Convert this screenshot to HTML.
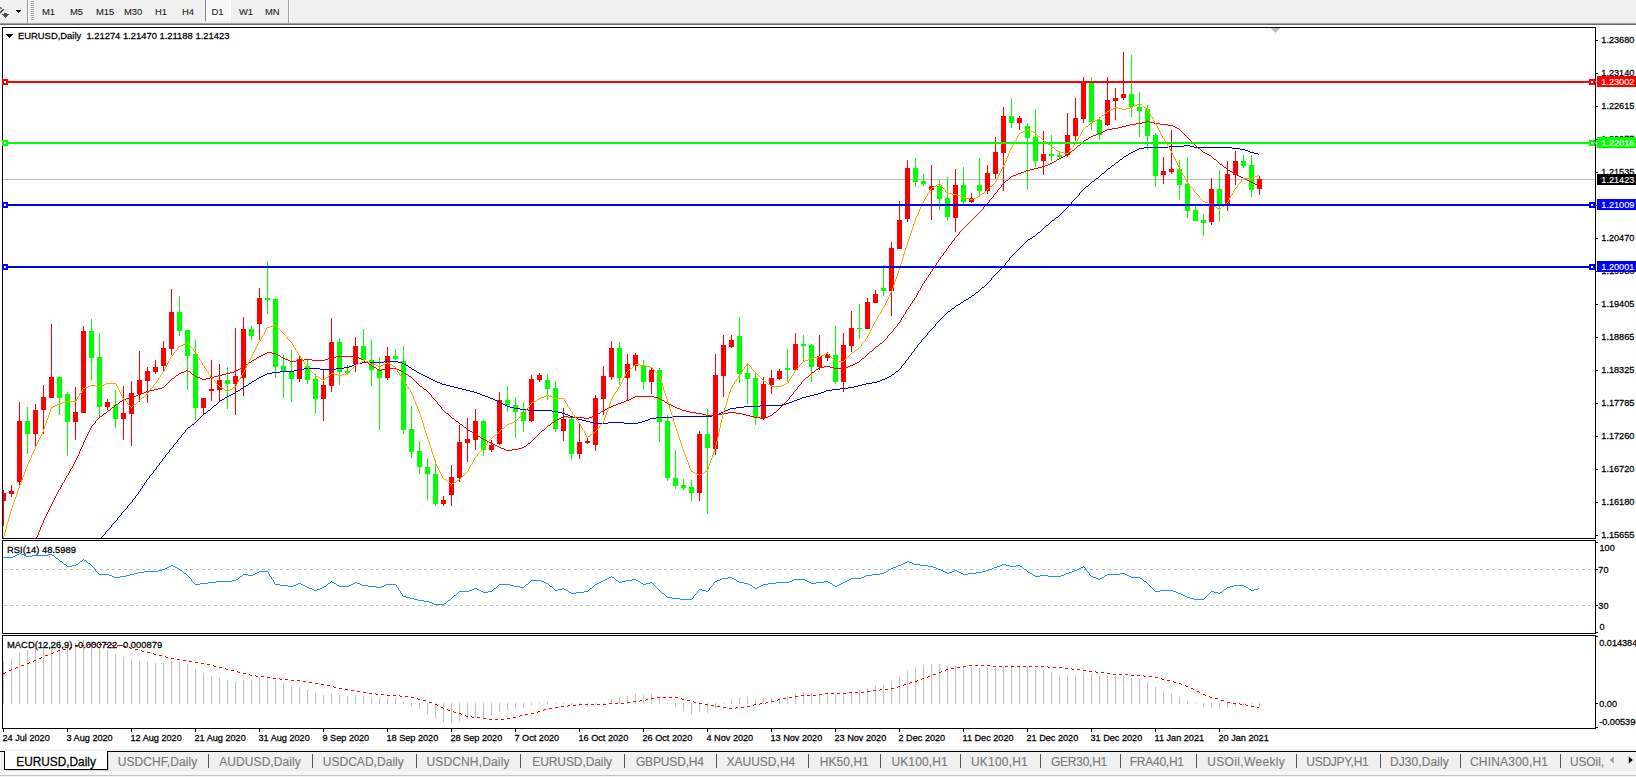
<!DOCTYPE html>
<html><head><meta charset="utf-8"><title>EURUSD,Daily</title>
<style>
html,body{margin:0;padding:0;background:#fff;overflow:hidden}
svg{display:block}
text{font-family:"Liberation Sans",sans-serif;font-size:9.7px;fill:#000;white-space:pre;stroke:#000;stroke-width:.25px}
.t{font-size:12px;fill:#7a7a7a;stroke:#7a7a7a;stroke-width:.15px}
.ta{font-size:12px;fill:#000}
.w{fill:#fff;stroke:#fff;stroke-width:.12px}
.c{shape-rendering:crispEdges}
.p{fill:none;stroke-width:1;stroke-linejoin:round;shape-rendering:crispEdges}
</style></head><body>
<svg width="1636" height="777" viewBox="0 0 1636 777">
<g class="c">
<rect x="0" y="0" width="1636" height="23" fill="#f0f0f0"/>
<rect x="0" y="22" width="1636" height="1" fill="#ececec"/>
<rect x="0" y="23" width="1636" height="1" fill="#a0a0a0"/>
<rect x="0" y="24" width="1636" height="1" fill="#696969"/>
<rect x="27" y="0" width="1" height="23" fill="#a0a0a0"/>
<rect x="28" y="0" width="1" height="22" fill="#ffffff"/>
<rect x="288" y="0" width="1" height="23" fill="#a0a0a0"/>
<rect x="289" y="0" width="1" height="22" fill="#ffffff"/>
<rect x="31" y="1" width="3" height="1" fill="#a6a6a6"/>
<rect x="31" y="3" width="3" height="1" fill="#a6a6a6"/>
<rect x="31" y="5" width="3" height="1" fill="#a6a6a6"/>
<rect x="31" y="7" width="3" height="1" fill="#a6a6a6"/>
<rect x="31" y="9" width="3" height="1" fill="#a6a6a6"/>
<rect x="31" y="11" width="3" height="1" fill="#a6a6a6"/>
<rect x="31" y="13" width="3" height="1" fill="#a6a6a6"/>
<rect x="31" y="15" width="3" height="1" fill="#a6a6a6"/>
<rect x="31" y="17" width="3" height="1" fill="#a6a6a6"/>
<rect x="31" y="19" width="3" height="1" fill="#a6a6a6"/>
<rect x="205" y="0" width="1" height="21" fill="#808080"/>
<rect x="206" y="0" width="24" height="20" fill="#f8f8f8"/>
<rect x="206" y="20" width="25" height="1" fill="#ffffff"/>
<rect x="230" y="0" width="1" height="21" fill="#ffffff"/>
<rect x="16" y="10" width="5" height="1" fill="#000"/>
<rect x="17" y="11" width="3" height="1" fill="#000"/>
<rect x="18" y="12" width="1" height="1" fill="#000"/>
</g>
<path d="M-0.5 13.3 L3.7 9.3 M-0.5 7.6 L1.6 8.4" stroke="#404040" stroke-width="1.5" fill="none"/>
<path class="c" d="M4 13h3v1h-3zM2 14h7v1h-7zM3 15h5v1h-5zM4 16h3v1h-3zM5 17h1v1h-1z" fill="#505050"/>
<text transform="translate(42 14.6) scale(1 1.032)" style="font-size:9.4px;fill:#1c1c1c;stroke:#1c1c1c;stroke-width:.1px">M1</text>
<text transform="translate(70 14.6) scale(1 1.032)" style="font-size:9.4px;fill:#1c1c1c;stroke:#1c1c1c;stroke-width:.1px">M5</text>
<text transform="translate(96 14.6) scale(1 1.032)" style="font-size:9.4px;fill:#1c1c1c;stroke:#1c1c1c;stroke-width:.1px">M15</text>
<text transform="translate(124 14.6) scale(1 1.032)" style="font-size:9.4px;fill:#1c1c1c;stroke:#1c1c1c;stroke-width:.1px">M30</text>
<text transform="translate(155 14.6) scale(1 1.032)" style="font-size:9.4px;fill:#1c1c1c;stroke:#1c1c1c;stroke-width:.1px">H1</text>
<text transform="translate(182 14.6) scale(1 1.032)" style="font-size:9.4px;fill:#1c1c1c;stroke:#1c1c1c;stroke-width:.1px">H4</text>
<text transform="translate(211.5 14.6) scale(1 1.032)" style="font-size:9.4px;fill:#1c1c1c;stroke:#1c1c1c;stroke-width:.1px">D1</text>
<text transform="translate(239 14.6) scale(1 1.032)" style="font-size:9.4px;fill:#1c1c1c;stroke:#1c1c1c;stroke-width:.1px">W1</text>
<text transform="translate(265 14.6) scale(1 1.032)" style="font-size:9.4px;fill:#1c1c1c;stroke:#1c1c1c;stroke-width:.1px">MN</text>
<g class="c">
<rect x="2" y="27" width="1594" height="1" fill="#000"/>
<rect x="2" y="538" width="1594" height="1" fill="#000"/>
<rect x="2" y="27" width="1" height="512" fill="#000"/>
<rect x="1595" y="27" width="1" height="512" fill="#000"/>
<rect x="2" y="540" width="1594" height="1" fill="#000"/>
<rect x="2" y="633" width="1594" height="1" fill="#000"/>
<rect x="2" y="540" width="1" height="94" fill="#000"/>
<rect x="1595" y="540" width="1" height="94" fill="#000"/>
<rect x="2" y="635" width="1594" height="1" fill="#000"/>
<rect x="2" y="728" width="1594" height="1" fill="#000"/>
<rect x="2" y="635" width="1" height="94" fill="#000"/>
<rect x="1595" y="635" width="1" height="94" fill="#000"/>
</g>
<g class="c">
<rect x="3" y="179" width="1592" height="1" fill="#c0c0c0"/>
</g>
<g class="c">
<rect x="3" y="490" width="1" height="36" fill="#ff0000"/>
<rect x="3" y="493" width="3" height="8" fill="#ff0000"/>
<rect x="11" y="485" width="1" height="12" fill="#ff0000"/>
<rect x="9" y="491" width="5" height="3" fill="#ff0000"/>
<rect x="19" y="402" width="1" height="86" fill="#ff0000"/>
<rect x="17" y="421" width="5" height="61" fill="#ff0000"/>
<rect x="27" y="407" width="1" height="47" fill="#00ff00"/>
<rect x="25" y="421" width="5" height="13" fill="#00ff00"/>
<rect x="35" y="404" width="1" height="42" fill="#ff0000"/>
<rect x="33" y="410" width="5" height="24" fill="#ff0000"/>
<rect x="43" y="385" width="1" height="49" fill="#ff0000"/>
<rect x="41" y="397" width="5" height="13" fill="#ff0000"/>
<rect x="51" y="324" width="1" height="74" fill="#ff0000"/>
<rect x="49" y="377" width="5" height="21" fill="#ff0000"/>
<rect x="59" y="377" width="1" height="38" fill="#00ff00"/>
<rect x="57" y="377" width="5" height="21" fill="#00ff00"/>
<rect x="67" y="392" width="1" height="64" fill="#00ff00"/>
<rect x="65" y="394" width="5" height="28" fill="#00ff00"/>
<rect x="75" y="387" width="1" height="53" fill="#ff0000"/>
<rect x="73" y="412" width="5" height="10" fill="#ff0000"/>
<rect x="83" y="326" width="1" height="87" fill="#ff0000"/>
<rect x="81" y="331" width="5" height="82" fill="#ff0000"/>
<rect x="91" y="319" width="1" height="61" fill="#00ff00"/>
<rect x="89" y="331" width="5" height="27" fill="#00ff00"/>
<rect x="99" y="333" width="1" height="84" fill="#00ff00"/>
<rect x="97" y="357" width="5" height="50" fill="#00ff00"/>
<rect x="107" y="399" width="1" height="11" fill="#ff0000"/>
<rect x="105" y="402" width="5" height="5" fill="#ff0000"/>
<rect x="115" y="390" width="1" height="38" fill="#00ff00"/>
<rect x="113" y="405" width="5" height="14" fill="#00ff00"/>
<rect x="123" y="386" width="1" height="54" fill="#ff0000"/>
<rect x="121" y="413" width="5" height="6" fill="#ff0000"/>
<rect x="131" y="381" width="1" height="65" fill="#ff0000"/>
<rect x="129" y="393" width="5" height="21" fill="#ff0000"/>
<rect x="139" y="351" width="1" height="51" fill="#ff0000"/>
<rect x="137" y="380" width="5" height="14" fill="#ff0000"/>
<rect x="147" y="367" width="1" height="36" fill="#ff0000"/>
<rect x="145" y="371" width="5" height="10" fill="#ff0000"/>
<rect x="155" y="360" width="1" height="14" fill="#ff0000"/>
<rect x="153" y="367" width="5" height="5" fill="#ff0000"/>
<rect x="163" y="341" width="1" height="31" fill="#ff0000"/>
<rect x="161" y="348" width="5" height="18" fill="#ff0000"/>
<rect x="171" y="289" width="1" height="66" fill="#ff0000"/>
<rect x="169" y="312" width="5" height="37" fill="#ff0000"/>
<rect x="179" y="296" width="1" height="40" fill="#00ff00"/>
<rect x="177" y="312" width="5" height="19" fill="#00ff00"/>
<rect x="187" y="330" width="1" height="60" fill="#00ff00"/>
<rect x="185" y="330" width="5" height="26" fill="#00ff00"/>
<rect x="195" y="340" width="1" height="80" fill="#00ff00"/>
<rect x="193" y="354" width="5" height="54" fill="#00ff00"/>
<rect x="203" y="398" width="1" height="17" fill="#ff0000"/>
<rect x="201" y="398" width="5" height="10" fill="#ff0000"/>
<rect x="211" y="360" width="1" height="41" fill="#ff0000"/>
<rect x="209" y="389" width="5" height="2" fill="#ff0000"/>
<rect x="219" y="364" width="1" height="37" fill="#ff0000"/>
<rect x="217" y="380" width="5" height="10" fill="#ff0000"/>
<rect x="227" y="367" width="1" height="42" fill="#00ff00"/>
<rect x="225" y="380" width="5" height="4" fill="#00ff00"/>
<rect x="235" y="328" width="1" height="87" fill="#ff0000"/>
<rect x="233" y="376" width="5" height="8" fill="#ff0000"/>
<rect x="243" y="317" width="1" height="79" fill="#ff0000"/>
<rect x="241" y="329" width="5" height="49" fill="#ff0000"/>
<rect x="251" y="326" width="1" height="14" fill="#00ff00"/>
<rect x="249" y="329" width="5" height="7" fill="#00ff00"/>
<rect x="259" y="288" width="1" height="52" fill="#ff0000"/>
<rect x="257" y="298" width="5" height="26" fill="#ff0000"/>
<rect x="267" y="261" width="1" height="53" fill="#00ff00"/>
<rect x="265" y="298" width="5" height="2" fill="#00ff00"/>
<rect x="275" y="298" width="1" height="80" fill="#00ff00"/>
<rect x="273" y="299" width="5" height="68" fill="#00ff00"/>
<rect x="283" y="355" width="1" height="43" fill="#00ff00"/>
<rect x="281" y="366" width="5" height="6" fill="#00ff00"/>
<rect x="291" y="350" width="1" height="52" fill="#00ff00"/>
<rect x="289" y="372" width="5" height="7" fill="#00ff00"/>
<rect x="299" y="356" width="1" height="26" fill="#ff0000"/>
<rect x="297" y="359" width="5" height="20" fill="#ff0000"/>
<rect x="307" y="360" width="1" height="24" fill="#00ff00"/>
<rect x="305" y="366" width="5" height="14" fill="#00ff00"/>
<rect x="315" y="374" width="1" height="39" fill="#00ff00"/>
<rect x="313" y="379" width="5" height="20" fill="#00ff00"/>
<rect x="323" y="370" width="1" height="51" fill="#ff0000"/>
<rect x="321" y="385" width="5" height="14" fill="#ff0000"/>
<rect x="331" y="318" width="1" height="74" fill="#ff0000"/>
<rect x="329" y="342" width="5" height="44" fill="#ff0000"/>
<rect x="339" y="338" width="1" height="47" fill="#00ff00"/>
<rect x="337" y="342" width="5" height="30" fill="#00ff00"/>
<rect x="347" y="365" width="1" height="10" fill="#00ff00"/>
<rect x="345" y="371" width="5" height="2" fill="#00ff00"/>
<rect x="355" y="337" width="1" height="35" fill="#ff0000"/>
<rect x="353" y="346" width="5" height="18" fill="#ff0000"/>
<rect x="363" y="329" width="1" height="31" fill="#00ff00"/>
<rect x="361" y="346" width="5" height="14" fill="#00ff00"/>
<rect x="371" y="340" width="1" height="46" fill="#00ff00"/>
<rect x="369" y="360" width="5" height="10" fill="#00ff00"/>
<rect x="379" y="357" width="1" height="73" fill="#00ff00"/>
<rect x="377" y="369" width="5" height="9" fill="#00ff00"/>
<rect x="387" y="347" width="1" height="33" fill="#ff0000"/>
<rect x="385" y="356" width="5" height="22" fill="#ff0000"/>
<rect x="395" y="349" width="1" height="11" fill="#00ff00"/>
<rect x="393" y="356" width="5" height="3" fill="#00ff00"/>
<rect x="403" y="346" width="1" height="88" fill="#00ff00"/>
<rect x="401" y="361" width="5" height="69" fill="#00ff00"/>
<rect x="411" y="406" width="1" height="52" fill="#00ff00"/>
<rect x="409" y="429" width="5" height="23" fill="#00ff00"/>
<rect x="419" y="441" width="1" height="33" fill="#00ff00"/>
<rect x="417" y="451" width="5" height="16" fill="#00ff00"/>
<rect x="427" y="458" width="1" height="42" fill="#00ff00"/>
<rect x="425" y="467" width="5" height="7" fill="#00ff00"/>
<rect x="435" y="460" width="1" height="46" fill="#00ff00"/>
<rect x="433" y="474" width="5" height="30" fill="#00ff00"/>
<rect x="443" y="496" width="1" height="10" fill="#ff0000"/>
<rect x="441" y="500" width="5" height="4" fill="#ff0000"/>
<rect x="451" y="465" width="1" height="41" fill="#ff0000"/>
<rect x="449" y="477" width="5" height="18" fill="#ff0000"/>
<rect x="459" y="425" width="1" height="57" fill="#ff0000"/>
<rect x="457" y="442" width="5" height="36" fill="#ff0000"/>
<rect x="467" y="418" width="1" height="44" fill="#ff0000"/>
<rect x="465" y="439" width="5" height="4" fill="#ff0000"/>
<rect x="475" y="409" width="1" height="41" fill="#ff0000"/>
<rect x="473" y="421" width="5" height="19" fill="#ff0000"/>
<rect x="483" y="420" width="1" height="36" fill="#00ff00"/>
<rect x="481" y="421" width="5" height="29" fill="#00ff00"/>
<rect x="491" y="440" width="1" height="12" fill="#ff0000"/>
<rect x="489" y="445" width="5" height="5" fill="#ff0000"/>
<rect x="499" y="392" width="1" height="53" fill="#ff0000"/>
<rect x="497" y="400" width="5" height="44" fill="#ff0000"/>
<rect x="507" y="386" width="1" height="26" fill="#00ff00"/>
<rect x="505" y="400" width="5" height="5" fill="#00ff00"/>
<rect x="515" y="397" width="1" height="41" fill="#00ff00"/>
<rect x="513" y="405" width="5" height="7" fill="#00ff00"/>
<rect x="523" y="402" width="1" height="30" fill="#00ff00"/>
<rect x="521" y="412" width="5" height="9" fill="#00ff00"/>
<rect x="531" y="375" width="1" height="47" fill="#ff0000"/>
<rect x="529" y="379" width="5" height="42" fill="#ff0000"/>
<rect x="539" y="373" width="1" height="9" fill="#ff0000"/>
<rect x="537" y="375" width="5" height="5" fill="#ff0000"/>
<rect x="547" y="374" width="1" height="26" fill="#00ff00"/>
<rect x="545" y="380" width="5" height="9" fill="#00ff00"/>
<rect x="555" y="381" width="1" height="51" fill="#00ff00"/>
<rect x="553" y="388" width="5" height="41" fill="#00ff00"/>
<rect x="563" y="408" width="1" height="33" fill="#ff0000"/>
<rect x="561" y="419" width="5" height="12" fill="#ff0000"/>
<rect x="571" y="418" width="1" height="42" fill="#00ff00"/>
<rect x="569" y="419" width="5" height="35" fill="#00ff00"/>
<rect x="579" y="424" width="1" height="35" fill="#ff0000"/>
<rect x="577" y="442" width="5" height="12" fill="#ff0000"/>
<rect x="587" y="437" width="1" height="7" fill="#ff0000"/>
<rect x="585" y="441" width="5" height="2" fill="#ff0000"/>
<rect x="595" y="395" width="1" height="56" fill="#ff0000"/>
<rect x="593" y="398" width="5" height="47" fill="#ff0000"/>
<rect x="603" y="366" width="1" height="49" fill="#ff0000"/>
<rect x="601" y="376" width="5" height="23" fill="#ff0000"/>
<rect x="611" y="341" width="1" height="39" fill="#ff0000"/>
<rect x="609" y="348" width="5" height="29" fill="#ff0000"/>
<rect x="619" y="342" width="1" height="43" fill="#00ff00"/>
<rect x="617" y="348" width="5" height="30" fill="#00ff00"/>
<rect x="627" y="354" width="1" height="46" fill="#ff0000"/>
<rect x="625" y="364" width="5" height="14" fill="#ff0000"/>
<rect x="635" y="353" width="1" height="18" fill="#ff0000"/>
<rect x="633" y="355" width="5" height="11" fill="#ff0000"/>
<rect x="643" y="360" width="1" height="30" fill="#00ff00"/>
<rect x="641" y="365" width="5" height="17" fill="#00ff00"/>
<rect x="651" y="367" width="1" height="27" fill="#ff0000"/>
<rect x="649" y="370" width="5" height="12" fill="#ff0000"/>
<rect x="659" y="368" width="1" height="74" fill="#00ff00"/>
<rect x="657" y="370" width="5" height="52" fill="#00ff00"/>
<rect x="667" y="415" width="1" height="66" fill="#00ff00"/>
<rect x="665" y="421" width="5" height="57" fill="#00ff00"/>
<rect x="675" y="450" width="1" height="39" fill="#00ff00"/>
<rect x="673" y="478" width="5" height="8" fill="#00ff00"/>
<rect x="683" y="479" width="1" height="11" fill="#00ff00"/>
<rect x="681" y="485" width="5" height="3" fill="#00ff00"/>
<rect x="691" y="480" width="1" height="21" fill="#00ff00"/>
<rect x="689" y="487" width="5" height="6" fill="#00ff00"/>
<rect x="699" y="431" width="1" height="70" fill="#ff0000"/>
<rect x="697" y="434" width="5" height="59" fill="#ff0000"/>
<rect x="707" y="409" width="1" height="105" fill="#00ff00"/>
<rect x="705" y="434" width="5" height="14" fill="#00ff00"/>
<rect x="715" y="354" width="1" height="101" fill="#ff0000"/>
<rect x="713" y="375" width="5" height="74" fill="#ff0000"/>
<rect x="723" y="335" width="1" height="62" fill="#ff0000"/>
<rect x="721" y="345" width="5" height="31" fill="#ff0000"/>
<rect x="731" y="335" width="1" height="13" fill="#ff0000"/>
<rect x="729" y="340" width="5" height="7" fill="#ff0000"/>
<rect x="739" y="317" width="1" height="66" fill="#00ff00"/>
<rect x="737" y="336" width="5" height="38" fill="#00ff00"/>
<rect x="747" y="363" width="1" height="41" fill="#00ff00"/>
<rect x="745" y="373" width="5" height="6" fill="#00ff00"/>
<rect x="755" y="372" width="1" height="53" fill="#00ff00"/>
<rect x="753" y="378" width="5" height="40" fill="#00ff00"/>
<rect x="763" y="377" width="1" height="43" fill="#ff0000"/>
<rect x="761" y="384" width="5" height="34" fill="#ff0000"/>
<rect x="771" y="370" width="1" height="24" fill="#ff0000"/>
<rect x="769" y="378" width="5" height="7" fill="#ff0000"/>
<rect x="779" y="369" width="1" height="11" fill="#ff0000"/>
<rect x="777" y="371" width="5" height="8" fill="#ff0000"/>
<rect x="787" y="349" width="1" height="33" fill="#00ff00"/>
<rect x="785" y="368" width="5" height="2" fill="#00ff00"/>
<rect x="795" y="333" width="1" height="37" fill="#ff0000"/>
<rect x="793" y="344" width="5" height="26" fill="#ff0000"/>
<rect x="803" y="335" width="1" height="26" fill="#00ff00"/>
<rect x="801" y="344" width="5" height="2" fill="#00ff00"/>
<rect x="811" y="344" width="1" height="38" fill="#00ff00"/>
<rect x="809" y="345" width="5" height="22" fill="#00ff00"/>
<rect x="819" y="335" width="1" height="35" fill="#ff0000"/>
<rect x="817" y="356" width="5" height="11" fill="#ff0000"/>
<rect x="827" y="352" width="1" height="9" fill="#ff0000"/>
<rect x="825" y="354" width="5" height="4" fill="#ff0000"/>
<rect x="835" y="326" width="1" height="58" fill="#00ff00"/>
<rect x="833" y="355" width="5" height="27" fill="#00ff00"/>
<rect x="843" y="333" width="1" height="59" fill="#ff0000"/>
<rect x="841" y="345" width="5" height="37" fill="#ff0000"/>
<rect x="851" y="311" width="1" height="41" fill="#ff0000"/>
<rect x="849" y="328" width="5" height="18" fill="#ff0000"/>
<rect x="859" y="304" width="1" height="35" fill="#00ff00"/>
<rect x="857" y="328" width="5" height="1" fill="#00ff00"/>
<rect x="867" y="298" width="1" height="31" fill="#ff0000"/>
<rect x="865" y="302" width="5" height="27" fill="#ff0000"/>
<rect x="875" y="290" width="1" height="13" fill="#ff0000"/>
<rect x="873" y="294" width="5" height="9" fill="#ff0000"/>
<rect x="883" y="265" width="1" height="31" fill="#00ff00"/>
<rect x="881" y="288" width="5" height="3" fill="#00ff00"/>
<rect x="891" y="242" width="1" height="74" fill="#ff0000"/>
<rect x="889" y="248" width="5" height="43" fill="#ff0000"/>
<rect x="899" y="201" width="1" height="48" fill="#ff0000"/>
<rect x="897" y="220" width="5" height="29" fill="#ff0000"/>
<rect x="907" y="160" width="1" height="62" fill="#ff0000"/>
<rect x="905" y="168" width="5" height="51" fill="#ff0000"/>
<rect x="915" y="158" width="1" height="29" fill="#00ff00"/>
<rect x="913" y="168" width="5" height="14" fill="#00ff00"/>
<rect x="923" y="174" width="1" height="12" fill="#00ff00"/>
<rect x="921" y="181" width="5" height="3" fill="#00ff00"/>
<rect x="931" y="165" width="1" height="55" fill="#ff0000"/>
<rect x="929" y="186" width="5" height="4" fill="#ff0000"/>
<rect x="939" y="180" width="1" height="30" fill="#00ff00"/>
<rect x="937" y="186" width="5" height="13" fill="#00ff00"/>
<rect x="947" y="177" width="1" height="44" fill="#00ff00"/>
<rect x="945" y="198" width="5" height="19" fill="#00ff00"/>
<rect x="955" y="169" width="1" height="63" fill="#ff0000"/>
<rect x="953" y="185" width="5" height="33" fill="#ff0000"/>
<rect x="963" y="167" width="1" height="37" fill="#00ff00"/>
<rect x="961" y="185" width="5" height="17" fill="#00ff00"/>
<rect x="971" y="193" width="1" height="10" fill="#ff0000"/>
<rect x="969" y="198" width="5" height="4" fill="#ff0000"/>
<rect x="979" y="158" width="1" height="39" fill="#00ff00"/>
<rect x="977" y="185" width="5" height="6" fill="#00ff00"/>
<rect x="987" y="165" width="1" height="29" fill="#ff0000"/>
<rect x="985" y="173" width="5" height="18" fill="#ff0000"/>
<rect x="995" y="137" width="1" height="42" fill="#ff0000"/>
<rect x="993" y="152" width="5" height="22" fill="#ff0000"/>
<rect x="1003" y="107" width="1" height="84" fill="#ff0000"/>
<rect x="1001" y="116" width="5" height="37" fill="#ff0000"/>
<rect x="1011" y="99" width="1" height="29" fill="#00ff00"/>
<rect x="1009" y="116" width="5" height="7" fill="#00ff00"/>
<rect x="1019" y="116" width="1" height="14" fill="#ff0000"/>
<rect x="1017" y="118" width="5" height="5" fill="#ff0000"/>
<rect x="1027" y="123" width="1" height="66" fill="#00ff00"/>
<rect x="1025" y="126" width="5" height="12" fill="#00ff00"/>
<rect x="1035" y="109" width="1" height="58" fill="#00ff00"/>
<rect x="1033" y="137" width="5" height="24" fill="#00ff00"/>
<rect x="1043" y="131" width="1" height="44" fill="#ff0000"/>
<rect x="1041" y="154" width="5" height="7" fill="#ff0000"/>
<rect x="1051" y="135" width="1" height="26" fill="#00ff00"/>
<rect x="1049" y="154" width="5" height="2" fill="#00ff00"/>
<rect x="1059" y="151" width="1" height="7" fill="#00ff00"/>
<rect x="1057" y="155" width="5" height="2" fill="#00ff00"/>
<rect x="1067" y="113" width="1" height="44" fill="#ff0000"/>
<rect x="1065" y="135" width="5" height="20" fill="#ff0000"/>
<rect x="1075" y="98" width="1" height="43" fill="#ff0000"/>
<rect x="1073" y="118" width="5" height="18" fill="#ff0000"/>
<rect x="1083" y="77" width="1" height="46" fill="#ff0000"/>
<rect x="1081" y="81" width="5" height="38" fill="#ff0000"/>
<rect x="1091" y="77" width="1" height="53" fill="#00ff00"/>
<rect x="1089" y="83" width="5" height="39" fill="#00ff00"/>
<rect x="1099" y="117" width="1" height="23" fill="#00ff00"/>
<rect x="1097" y="120" width="5" height="15" fill="#00ff00"/>
<rect x="1107" y="77" width="1" height="49" fill="#ff0000"/>
<rect x="1105" y="100" width="5" height="25" fill="#ff0000"/>
<rect x="1115" y="88" width="1" height="32" fill="#ff0000"/>
<rect x="1113" y="98" width="5" height="3" fill="#ff0000"/>
<rect x="1123" y="52" width="1" height="48" fill="#ff0000"/>
<rect x="1121" y="94" width="5" height="4" fill="#ff0000"/>
<rect x="1131" y="55" width="1" height="62" fill="#00ff00"/>
<rect x="1129" y="94" width="5" height="13" fill="#00ff00"/>
<rect x="1139" y="92" width="1" height="45" fill="#00ff00"/>
<rect x="1137" y="107" width="5" height="4" fill="#00ff00"/>
<rect x="1147" y="105" width="1" height="45" fill="#00ff00"/>
<rect x="1145" y="109" width="5" height="27" fill="#00ff00"/>
<rect x="1155" y="133" width="1" height="54" fill="#00ff00"/>
<rect x="1153" y="135" width="5" height="41" fill="#00ff00"/>
<rect x="1163" y="157" width="1" height="27" fill="#ff0000"/>
<rect x="1161" y="171" width="5" height="4" fill="#ff0000"/>
<rect x="1171" y="130" width="1" height="44" fill="#ff0000"/>
<rect x="1169" y="169" width="5" height="3" fill="#ff0000"/>
<rect x="1179" y="160" width="1" height="40" fill="#00ff00"/>
<rect x="1177" y="169" width="5" height="16" fill="#00ff00"/>
<rect x="1187" y="157" width="1" height="61" fill="#00ff00"/>
<rect x="1185" y="184" width="5" height="27" fill="#00ff00"/>
<rect x="1195" y="206" width="1" height="15" fill="#00ff00"/>
<rect x="1193" y="210" width="5" height="11" fill="#00ff00"/>
<rect x="1203" y="214" width="1" height="22" fill="#00ff00"/>
<rect x="1201" y="220" width="5" height="3" fill="#00ff00"/>
<rect x="1211" y="178" width="1" height="47" fill="#ff0000"/>
<rect x="1209" y="189" width="5" height="33" fill="#ff0000"/>
<rect x="1219" y="170" width="1" height="51" fill="#00ff00"/>
<rect x="1217" y="189" width="5" height="15" fill="#00ff00"/>
<rect x="1227" y="161" width="1" height="50" fill="#ff0000"/>
<rect x="1225" y="174" width="5" height="30" fill="#ff0000"/>
<rect x="1235" y="151" width="1" height="34" fill="#ff0000"/>
<rect x="1233" y="161" width="5" height="14" fill="#ff0000"/>
<rect x="1243" y="155" width="1" height="13" fill="#00ff00"/>
<rect x="1241" y="161" width="5" height="5" fill="#00ff00"/>
<rect x="1251" y="155" width="1" height="42" fill="#00ff00"/>
<rect x="1249" y="165" width="5" height="25" fill="#00ff00"/>
<rect x="1259" y="176" width="1" height="19" fill="#ff0000"/>
<rect x="1257" y="179" width="5" height="10" fill="#ff0000"/>
</g>
<clipPath id="mc"><rect x="3" y="28" width="1592" height="510"/></clipPath>
<g clip-path="url(#mc)">
<path class="c" fill="#0000c8" d="M1184 145h6v1h-6zM1168 146h16v1h-16zM1190 146h4v1h-4zM1144 147h24v1h-24zM1194 147h38v1h-38zM1139 148h5v1h-5zM1232 148h8v1h-8zM1137 149h2v1h-2zM1240 149h5v1h-5zM1135 150h2v1h-2zM1245 150h3v1h-3zM1133 151h2v1h-2zM1248 151h2v1h-2zM1131 152h2v1h-2zM1250 152h4v1h-4zM1129 153h2v1h-2zM1254 153h4v1h-4zM1128 154h1v1h-1zM1258 154h1v1h-1zM1126 155h2v1h-2zM1124 156h2v1h-2zM1123 157h1v1h-1zM1122 158h1v1h-1zM1120 159h2v1h-2zM1119 160h1v1h-1zM1118 161h1v1h-1zM1116 162h2v1h-2zM1115 163h1v1h-1zM1114 164h1v1h-1zM1112 165h2v1h-2zM1111 166h1v1h-1zM1110 167h1v1h-1zM1108 168h2v1h-2zM1107 169h1v1h-1zM1106 170h1v1h-1zM1105 171h1v1h-1zM1104 172h1v1h-1zM1102 173h2v1h-2zM1101 174h1v1h-1zM1100 175h1v1h-1zM1099 176h1v1h-1zM1098 177h1v1h-1zM1096 178h2v1h-2zM1095 179h1v1h-1zM1094 180h1v1h-1zM1092 181h2v1h-2zM1091 182h1v1h-1zM1090 183h1v1h-1zM1089 184h1v1h-1zM1088 185h1v1h-1zM1086 186h2v1h-2zM1085 187h1v1h-1zM1084 188h1v1h-1zM1083 189h1v1h-1zM1082 190h1v1h-1zM1081 191h1v1h-1zM1080 192h1v1h-1zM1079 193h1v2h-1zM1078 195h1v1h-1zM1077 196h1v1h-1zM1076 197h1v1h-1zM1075 198h1v1h-1zM1074 199h1v1h-1zM1073 200h1v1h-1zM1072 201h1v1h-1zM1071 202h1v2h-1zM1070 204h1v1h-1zM1069 205h1v1h-1zM1068 206h1v1h-1zM1067 207h1v1h-1zM1066 208h1v1h-1zM1065 209h1v1h-1zM1064 210h1v1h-1zM1063 211h1v1h-1zM1062 212h1v1h-1zM1061 213h1v1h-1zM1060 214h1v1h-1zM1059 215h1v1h-1zM1058 216h1v1h-1zM1056 217h2v1h-2zM1055 218h1v1h-1zM1054 219h1v1h-1zM1052 220h2v1h-2zM1051 221h1v1h-1zM1050 222h1v1h-1zM1049 223h1v1h-1zM1048 224h1v1h-1zM1046 225h2v1h-2zM1045 226h1v1h-1zM1044 227h1v1h-1zM1043 228h1v1h-1zM1042 229h1v1h-1zM1041 230h1v1h-1zM1040 231h1v1h-1zM1038 232h2v1h-2zM1037 233h1v1h-1zM1036 234h1v1h-1zM1035 235h1v1h-1zM1033 236h2v1h-2zM1032 237h1v1h-1zM1030 238h2v1h-2zM1028 239h2v1h-2zM1027 240h1v1h-1zM1026 241h1v1h-1zM1025 242h1v1h-1zM1024 243h1v1h-1zM1023 244h1v1h-1zM1022 245h1v1h-1zM1021 246h1v1h-1zM1020 247h1v1h-1zM1019 248h1v1h-1zM1018 249h1v1h-1zM1017 250h1v1h-1zM1016 251h1v1h-1zM1015 252h1v1h-1zM1014 253h1v1h-1zM1013 254h1v1h-1zM1012 255h1v1h-1zM1011 256h1v1h-1zM1010 257h1v1h-1zM1009 258h1v2h-1zM1008 260h1v1h-1zM1007 261h1v1h-1zM1006 262h1v1h-1zM1005 263h1v2h-1zM1004 265h1v1h-1zM1003 266h1v1h-1zM1002 267h1v1h-1zM1001 268h1v1h-1zM1000 269h1v1h-1zM999 270h1v1h-1zM998 271h1v1h-1zM997 272h1v1h-1zM996 273h1v1h-1zM995 274h1v1h-1zM994 275h1v1h-1zM993 276h1v1h-1zM992 277h1v1h-1zM991 278h1v2h-1zM990 280h1v1h-1zM989 281h1v1h-1zM988 282h1v1h-1zM987 283h1v1h-1zM986 284h1v1h-1zM985 285h1v1h-1zM984 286h1v1h-1zM982 287h2v1h-2zM981 288h1v1h-1zM980 289h1v1h-1zM979 290h1v1h-1zM978 291h1v1h-1zM976 292h2v1h-2zM975 293h1v1h-1zM974 294h1v1h-1zM972 295h2v1h-2zM971 296h1v1h-1zM969 297h2v1h-2zM968 298h1v1h-1zM966 299h2v1h-2zM964 300h2v1h-2zM963 301h1v1h-1zM961 302h2v1h-2zM960 303h1v1h-1zM958 304h2v1h-2zM956 305h2v1h-2zM955 306h1v1h-1zM954 307h1v1h-1zM952 308h2v1h-2zM951 309h1v1h-1zM950 310h1v1h-1zM948 311h2v1h-2zM947 312h1v1h-1zM946 313h1v1h-1zM945 314h1v1h-1zM944 315h1v1h-1zM943 316h1v1h-1zM942 317h1v1h-1zM941 318h1v1h-1zM940 319h1v1h-1zM939 320h1v1h-1zM938 321h1v1h-1zM937 322h1v1h-1zM936 323h1v1h-1zM935 324h1v2h-1zM934 326h1v1h-1zM933 327h1v1h-1zM932 328h1v1h-1zM931 329h1v1h-1zM930 330h1v1h-1zM929 331h1v1h-1zM928 332h1v1h-1zM927 333h1v2h-1zM926 335h1v1h-1zM925 336h1v1h-1zM924 337h1v1h-1zM923 338h1v1h-1zM922 339h1v1h-1zM921 340h1v2h-1zM920 342h1v1h-1zM919 343h1v1h-1zM918 344h1v1h-1zM917 345h1v2h-1zM916 347h1v1h-1zM915 348h1v1h-1zM914 349h1v2h-1zM913 351h1v1h-1zM912 352h1v1h-1zM911 353h1v2h-1zM910 355h1v1h-1zM909 356h1v1h-1zM908 357h1v2h-1zM907 359h1v1h-1zM906 360h1v1h-1zM384 361h14v1h-14zM905 361h1v2h-1zM362 362h22v1h-22zM398 362h4v1h-4zM358 363h4v1h-4zM402 363h2v1h-2zM904 363h1v1h-1zM354 364h4v1h-4zM404 364h2v1h-2zM903 364h1v1h-1zM352 365h2v1h-2zM406 365h2v1h-2zM902 365h1v1h-1zM349 366h3v1h-3zM408 366h1v1h-1zM901 366h1v2h-1zM344 367h5v1h-5zM409 367h2v1h-2zM304 368h16v1h-16zM336 368h8v1h-8zM411 368h1v1h-1zM900 368h1v1h-1zM298 369h6v1h-6zM320 369h16v1h-16zM412 369h2v1h-2zM899 369h1v1h-1zM294 370h4v1h-4zM414 370h2v1h-2zM898 370h1v1h-1zM280 371h14v1h-14zM416 371h1v1h-1zM896 371h2v1h-2zM272 372h8v1h-8zM417 372h2v1h-2zM895 372h1v1h-1zM267 373h5v1h-5zM419 373h2v1h-2zM894 373h1v1h-1zM265 374h2v1h-2zM421 374h2v1h-2zM892 374h2v1h-2zM263 375h2v1h-2zM423 375h2v1h-2zM891 375h1v1h-1zM261 376h2v1h-2zM425 376h2v1h-2zM889 376h2v1h-2zM259 377h2v1h-2zM427 377h2v1h-2zM887 377h2v1h-2zM257 378h2v1h-2zM429 378h2v1h-2zM885 378h2v1h-2zM256 379h1v1h-1zM431 379h2v1h-2zM882 379h3v1h-3zM254 380h2v1h-2zM433 380h2v1h-2zM880 380h2v1h-2zM252 381h2v1h-2zM435 381h2v1h-2zM877 381h3v1h-3zM251 382h1v1h-1zM437 382h3v1h-3zM872 382h5v1h-5zM249 383h2v1h-2zM440 383h2v1h-2zM866 383h6v1h-6zM248 384h1v1h-1zM442 384h4v1h-4zM862 384h4v1h-4zM246 385h2v1h-2zM446 385h4v1h-4zM858 385h4v1h-4zM244 386h2v1h-2zM450 386h4v1h-4zM854 386h4v1h-4zM243 387h1v1h-1zM454 387h4v1h-4zM848 387h6v1h-6zM241 388h2v1h-2zM458 388h4v1h-4zM840 388h8v1h-8zM240 389h1v1h-1zM462 389h4v1h-4zM832 389h8v1h-8zM238 390h2v1h-2zM466 390h4v1h-4zM826 390h6v1h-6zM236 391h2v1h-2zM470 391h4v1h-4zM824 391h2v1h-2zM235 392h1v1h-1zM474 392h3v1h-3zM821 392h3v1h-3zM233 393h2v1h-2zM477 393h3v1h-3zM818 393h3v1h-3zM231 394h2v1h-2zM480 394h2v1h-2zM814 394h4v1h-4zM229 395h2v1h-2zM482 395h3v1h-3zM810 395h4v1h-4zM227 396h2v1h-2zM485 396h3v1h-3zM806 396h4v1h-4zM225 397h2v1h-2zM488 397h2v1h-2zM802 397h4v1h-4zM224 398h1v1h-1zM490 398h3v1h-3zM800 398h2v1h-2zM222 399h2v1h-2zM493 399h2v1h-2zM797 399h3v1h-3zM220 400h2v1h-2zM495 400h2v1h-2zM794 400h3v1h-3zM219 401h1v1h-1zM497 401h2v1h-2zM792 401h2v1h-2zM218 402h1v1h-1zM499 402h2v1h-2zM789 402h3v1h-3zM217 403h1v1h-1zM501 403h2v1h-2zM786 403h3v1h-3zM216 404h1v1h-1zM503 404h2v1h-2zM782 404h4v1h-4zM214 405h2v1h-2zM505 405h2v1h-2zM760 405h22v1h-22zM213 406h1v1h-1zM507 406h3v1h-3zM744 406h16v1h-16zM212 407h1v1h-1zM510 407h4v1h-4zM736 407h8v1h-8zM211 408h1v1h-1zM514 408h6v1h-6zM730 408h6v1h-6zM210 409h1v1h-1zM520 409h8v1h-8zM728 409h2v1h-2zM208 410h2v1h-2zM528 410h24v1h-24zM725 410h3v1h-3zM207 411h1v1h-1zM552 411h6v1h-6zM723 411h2v1h-2zM206 412h1v1h-1zM558 412h4v1h-4zM721 412h2v1h-2zM204 413h2v1h-2zM562 413h3v1h-3zM719 413h2v1h-2zM203 414h1v1h-1zM565 414h3v1h-3zM717 414h2v1h-2zM202 415h1v1h-1zM568 415h2v1h-2zM712 415h5v1h-5zM201 416h1v1h-1zM570 416h3v1h-3zM672 416h40v1h-40zM200 417h1v1h-1zM573 417h3v1h-3zM656 417h16v1h-16zM199 418h1v1h-1zM576 418h2v1h-2zM650 418h6v1h-6zM198 419h1v1h-1zM578 419h4v1h-4zM648 419h2v1h-2zM197 420h1v1h-1zM582 420h4v1h-4zM645 420h3v1h-3zM196 421h1v1h-1zM586 421h4v1h-4zM642 421h3v1h-3zM195 422h1v1h-1zM590 422h4v1h-4zM608 422h16v1h-16zM638 422h4v1h-4zM194 423h1v1h-1zM594 423h14v1h-14zM624 423h14v1h-14zM192 424h2v1h-2zM191 425h1v1h-1zM190 426h1v1h-1zM188 427h2v1h-2zM187 428h1v1h-1zM186 429h1v1h-1zM185 430h1v2h-1zM184 432h1v1h-1zM183 433h1v1h-1zM182 434h1v1h-1zM181 435h1v2h-1zM180 437h1v1h-1zM179 438h1v1h-1zM178 439h1v1h-1zM177 440h1v2h-1zM176 442h1v1h-1zM175 443h1v1h-1zM174 444h1v1h-1zM173 445h1v2h-1zM172 447h1v1h-1zM171 448h1v1h-1zM170 449h1v1h-1zM169 450h1v2h-1zM168 452h1v1h-1zM167 453h1v1h-1zM166 454h1v1h-1zM165 455h1v2h-1zM164 457h1v1h-1zM163 458h1v1h-1zM162 459h1v2h-1zM161 461h1v1h-1zM160 462h1v1h-1zM159 463h1v2h-1zM158 465h1v1h-1zM157 466h1v1h-1zM156 467h1v2h-1zM155 469h1v1h-1zM154 470h1v1h-1zM153 471h1v2h-1zM152 473h1v1h-1zM151 474h1v1h-1zM150 475h1v1h-1zM149 476h1v2h-1zM148 478h1v1h-1zM147 479h1v1h-1zM146 480h1v2h-1zM145 482h1v1h-1zM144 483h1v2h-1zM143 485h1v1h-1zM142 486h1v2h-1zM141 488h1v1h-1zM140 489h1v2h-1zM139 491h1v1h-1zM138 492h1v2h-1zM137 494h1v1h-1zM136 495h1v1h-1zM135 496h1v2h-1zM134 498h1v1h-1zM133 499h1v1h-1zM132 500h1v2h-1zM131 502h1v1h-1zM130 503h1v1h-1zM129 504h1v1h-1zM128 505h1v1h-1zM127 506h1v2h-1zM126 508h1v1h-1zM125 509h1v1h-1zM124 510h1v1h-1zM123 511h1v1h-1zM122 512h1v1h-1zM121 513h1v2h-1zM120 515h1v1h-1zM119 516h1v1h-1zM118 517h1v1h-1zM117 518h1v2h-1zM116 520h1v1h-1zM115 521h1v1h-1zM114 522h1v1h-1zM113 523h1v1h-1zM112 524h1v1h-1zM111 525h1v2h-1zM110 527h1v1h-1zM109 528h1v1h-1zM108 529h1v1h-1zM107 530h1v1h-1zM106 531h1v1h-1zM105 532h1v2h-1zM104 534h1v1h-1zM103 535h1v1h-1zM102 536h1v1h-1zM101 537h1v1h-1z"/>
<path class="c" fill="#ff0000" d="M1146 121h4v1h-4zM1142 122h4v1h-4zM1150 122h4v1h-4zM1136 123h6v1h-6zM1154 123h6v1h-6zM1130 124h6v1h-6zM1160 124h8v1h-8zM1126 125h4v1h-4zM1168 125h5v1h-5zM1122 126h4v1h-4zM1173 126h2v1h-2zM1118 127h4v1h-4zM1175 127h2v1h-2zM1112 128h6v1h-6zM1177 128h2v1h-2zM1107 129h5v1h-5zM1179 129h1v1h-1zM1105 130h2v1h-2zM1180 130h1v1h-1zM1103 131h2v1h-2zM1181 131h1v1h-1zM1101 132h2v1h-2zM1182 132h1v1h-1zM1098 133h3v1h-3zM1183 133h1v1h-1zM1096 134h2v1h-2zM1184 134h1v1h-1zM1093 135h3v1h-3zM1185 135h1v1h-1zM1091 136h2v1h-2zM1186 136h1v1h-1zM1089 137h2v1h-2zM1187 137h1v1h-1zM1088 138h1v1h-1zM1188 138h1v1h-1zM1086 139h2v1h-2zM1189 139h1v1h-1zM1084 140h2v1h-2zM1190 140h1v1h-1zM1083 141h1v1h-1zM1191 141h1v1h-1zM1082 142h1v1h-1zM1192 142h1v1h-1zM1081 143h1v1h-1zM1193 143h1v1h-1zM1080 144h1v1h-1zM1194 144h1v1h-1zM1078 145h2v1h-2zM1195 145h1v1h-1zM1077 146h1v1h-1zM1196 146h1v1h-1zM1076 147h1v1h-1zM1197 147h1v1h-1zM1075 148h1v1h-1zM1198 148h2v1h-2zM1074 149h1v1h-1zM1200 149h1v1h-1zM1072 150h2v1h-2zM1201 150h1v1h-1zM1071 151h1v1h-1zM1202 151h1v1h-1zM1070 152h1v1h-1zM1203 152h2v1h-2zM1068 153h2v1h-2zM1205 153h2v1h-2zM1067 154h1v1h-1zM1207 154h2v1h-2zM1065 155h2v1h-2zM1209 155h2v1h-2zM1063 156h2v1h-2zM1211 156h1v1h-1zM1061 157h2v1h-2zM1212 157h1v1h-1zM1059 158h2v1h-2zM1213 158h1v1h-1zM1057 159h2v1h-2zM1214 159h2v1h-2zM1056 160h1v1h-1zM1216 160h1v1h-1zM1054 161h2v1h-2zM1217 161h1v1h-1zM1052 162h2v1h-2zM1218 162h1v1h-1zM1050 163h2v1h-2zM1219 163h1v1h-1zM1048 164h2v1h-2zM1220 164h2v1h-2zM1045 165h3v1h-3zM1222 165h1v1h-1zM1042 166h3v1h-3zM1223 166h1v1h-1zM1038 167h4v1h-4zM1224 167h2v1h-2zM1034 168h4v1h-4zM1226 168h1v1h-1zM1030 169h4v1h-4zM1227 169h1v1h-1zM1026 170h4v1h-4zM1228 170h2v1h-2zM1024 171h2v1h-2zM1230 171h2v1h-2zM1021 172h3v1h-3zM1232 172h1v1h-1zM1018 173h3v1h-3zM1233 173h2v1h-2zM1016 174h2v1h-2zM1235 174h2v1h-2zM1013 175h3v1h-3zM1237 175h2v1h-2zM1011 176h2v1h-2zM1239 176h2v1h-2zM1010 177h1v1h-1zM1241 177h2v1h-2zM1009 178h1v1h-1zM1243 178h2v1h-2zM1008 179h1v1h-1zM1245 179h2v1h-2zM1006 180h2v1h-2zM1247 180h2v1h-2zM1005 181h1v1h-1zM1249 181h2v1h-2zM1004 182h1v1h-1zM1251 182h2v1h-2zM1003 183h1v1h-1zM1253 183h2v1h-2zM1002 184h1v1h-1zM1255 184h2v1h-2zM1257 185h2v1h-2zM1001 185h1v2h-1zM1000 187h1v1h-1zM999 188h1v1h-1zM998 189h1v1h-1zM997 190h1v2h-1zM996 192h1v1h-1zM995 193h1v1h-1zM994 194h1v1h-1zM993 195h1v2h-1zM992 197h1v1h-1zM991 198h1v1h-1zM990 199h1v1h-1zM989 200h1v2h-1zM988 202h1v1h-1zM987 203h1v1h-1zM986 204h1v1h-1zM985 205h1v1h-1zM984 206h1v1h-1zM983 207h1v2h-1zM982 209h1v1h-1zM981 210h1v1h-1zM980 211h1v1h-1zM979 212h1v1h-1zM978 213h1v1h-1zM977 214h1v1h-1zM976 215h1v1h-1zM975 216h1v1h-1zM974 217h1v1h-1zM973 218h1v1h-1zM972 219h1v1h-1zM971 220h1v1h-1zM970 221h1v1h-1zM969 222h1v1h-1zM968 223h1v1h-1zM967 224h1v1h-1zM966 225h1v1h-1zM965 226h1v1h-1zM964 227h1v1h-1zM963 228h1v1h-1zM962 229h1v1h-1zM961 230h1v1h-1zM960 231h1v1h-1zM959 232h1v2h-1zM958 234h1v1h-1zM957 235h1v1h-1zM956 236h1v1h-1zM955 237h1v1h-1zM954 238h1v2h-1zM953 240h1v1h-1zM952 241h1v1h-1zM951 242h1v2h-1zM950 244h1v1h-1zM949 245h1v1h-1zM948 246h1v2h-1zM947 248h1v1h-1zM946 249h1v2h-1zM945 251h1v1h-1zM944 252h1v1h-1zM943 253h1v2h-1zM942 255h1v1h-1zM941 256h1v1h-1zM940 257h1v2h-1zM939 259h1v1h-1zM938 260h1v2h-1zM937 262h1v1h-1zM936 263h1v2h-1zM935 265h1v1h-1zM934 266h1v2h-1zM933 268h1v1h-1zM932 269h1v2h-1zM931 271h1v1h-1zM930 272h1v2h-1zM929 274h1v1h-1zM928 275h1v2h-1zM927 277h1v1h-1zM926 278h1v2h-1zM925 280h1v1h-1zM924 281h1v2h-1zM923 283h1v1h-1zM922 284h1v2h-1zM921 286h1v2h-1zM920 288h1v2h-1zM919 290h1v1h-1zM918 291h1v2h-1zM917 293h1v2h-1zM916 295h1v2h-1zM915 297h1v1h-1zM914 298h1v2h-1zM913 300h1v1h-1zM912 301h1v2h-1zM911 303h1v1h-1zM910 304h1v2h-1zM909 306h1v1h-1zM908 307h1v2h-1zM907 309h1v1h-1zM906 310h1v2h-1zM905 312h1v2h-1zM904 314h1v1h-1zM903 315h1v2h-1zM902 317h1v1h-1zM901 318h1v2h-1zM900 320h1v2h-1zM899 322h1v1h-1zM898 323h1v1h-1zM897 324h1v2h-1zM896 326h1v1h-1zM895 327h1v1h-1zM894 328h1v1h-1zM893 329h1v2h-1zM892 331h1v1h-1zM891 332h1v1h-1zM890 333h1v1h-1zM889 334h1v1h-1zM888 335h1v1h-1zM887 336h1v2h-1zM886 338h1v1h-1zM885 339h1v1h-1zM884 340h1v1h-1zM883 341h1v1h-1zM882 342h1v1h-1zM880 343h2v1h-2zM879 344h1v1h-1zM878 345h1v1h-1zM876 346h2v1h-2zM875 347h1v1h-1zM874 348h1v1h-1zM873 349h1v1h-1zM872 350h1v1h-1zM870 351h2v1h-2zM267 352h5v1h-5zM869 352h1v1h-1zM265 353h2v1h-2zM272 353h4v1h-4zM868 353h1v1h-1zM263 354h2v1h-2zM276 354h2v1h-2zM867 354h1v1h-1zM261 355h2v1h-2zM278 355h2v1h-2zM866 355h1v1h-1zM259 356h2v1h-2zM280 356h1v1h-1zM336 356h21v1h-21zM865 356h1v1h-1zM257 357h2v1h-2zM281 357h2v1h-2zM330 357h6v1h-6zM357 357h2v1h-2zM864 357h1v1h-1zM256 358h1v1h-1zM283 358h2v1h-2zM328 358h2v1h-2zM359 358h2v1h-2zM862 358h2v1h-2zM254 359h2v1h-2zM285 359h3v1h-3zM304 359h8v1h-8zM325 359h3v1h-3zM361 359h2v1h-2zM861 359h1v1h-1zM252 360h2v1h-2zM288 360h2v1h-2zM296 360h8v1h-8zM312 360h13v1h-13zM363 360h1v1h-1zM860 360h1v1h-1zM251 361h1v1h-1zM290 361h6v1h-6zM364 361h2v1h-2zM859 361h1v1h-1zM249 362h2v1h-2zM366 362h2v1h-2zM857 362h2v1h-2zM248 363h1v1h-1zM368 363h1v1h-1zM855 363h2v1h-2zM246 364h2v1h-2zM369 364h2v1h-2zM853 364h2v1h-2zM244 365h2v1h-2zM371 365h1v1h-1zM850 365h3v1h-3zM243 366h1v1h-1zM372 366h2v1h-2zM824 366h6v1h-6zM848 366h2v1h-2zM241 367h2v1h-2zM374 367h2v1h-2zM819 367h5v1h-5zM830 367h4v1h-4zM845 367h3v1h-3zM240 368h1v1h-1zM376 368h1v1h-1zM386 368h11v1h-11zM818 368h1v1h-1zM834 368h11v1h-11zM238 369h2v1h-2zM377 369h2v1h-2zM382 369h4v1h-4zM397 369h2v1h-2zM816 369h2v1h-2zM186 370h2v1h-2zM236 370h2v1h-2zM379 370h3v1h-3zM399 370h2v1h-2zM815 370h1v1h-1zM184 371h2v1h-2zM188 371h2v1h-2zM234 371h2v1h-2zM401 371h2v1h-2zM814 371h1v1h-1zM181 372h3v1h-3zM190 372h1v1h-1zM230 372h4v1h-4zM403 372h1v1h-1zM812 372h2v1h-2zM179 373h2v1h-2zM191 373h1v1h-1zM226 373h4v1h-4zM404 373h2v1h-2zM811 373h1v1h-1zM178 374h1v1h-1zM192 374h2v1h-2zM222 374h4v1h-4zM406 374h2v1h-2zM810 374h1v1h-1zM176 375h2v1h-2zM194 375h1v1h-1zM218 375h4v1h-4zM408 375h1v1h-1zM809 375h1v1h-1zM175 376h1v1h-1zM195 376h2v1h-2zM214 376h4v1h-4zM409 376h2v1h-2zM808 376h1v1h-1zM174 377h1v1h-1zM197 377h3v1h-3zM210 377h4v1h-4zM411 377h1v1h-1zM806 377h2v1h-2zM172 378h2v1h-2zM200 378h2v1h-2zM206 378h4v1h-4zM412 378h1v1h-1zM805 378h1v1h-1zM171 379h1v1h-1zM202 379h4v1h-4zM413 379h1v1h-1zM804 379h1v1h-1zM170 380h1v1h-1zM414 380h1v1h-1zM803 380h1v1h-1zM169 381h1v1h-1zM415 381h1v1h-1zM802 381h1v1h-1zM168 382h1v1h-1zM416 382h1v1h-1zM801 382h1v2h-1zM167 383h1v1h-1zM417 383h1v1h-1zM166 384h1v1h-1zM418 384h1v1h-1zM800 384h1v1h-1zM165 385h1v1h-1zM419 385h1v1h-1zM799 385h1v1h-1zM164 386h1v1h-1zM420 386h2v1h-2zM798 386h1v1h-1zM162 387h2v1h-2zM422 387h1v1h-1zM797 387h1v2h-1zM158 388h4v1h-4zM423 388h1v1h-1zM154 389h4v1h-4zM424 389h2v1h-2zM796 389h1v1h-1zM150 390h4v1h-4zM426 390h1v1h-1zM795 390h1v1h-1zM146 391h4v1h-4zM427 391h1v1h-1zM794 391h1v1h-1zM144 392h2v1h-2zM428 392h1v1h-1zM793 392h1v2h-1zM141 393h3v1h-3zM429 393h1v1h-1zM138 394h3v1h-3zM430 394h1v1h-1zM792 394h1v1h-1zM136 395h2v1h-2zM791 395h1v1h-1zM431 395h1v2h-1zM133 396h3v1h-3zM635 396h19v1h-19zM790 396h1v1h-1zM130 397h3v1h-3zM432 397h1v1h-1zM633 397h2v1h-2zM654 397h4v1h-4zM789 397h1v2h-1zM126 398h4v1h-4zM433 398h1v1h-1zM631 398h2v1h-2zM658 398h2v1h-2zM123 399h3v1h-3zM434 399h1v1h-1zM629 399h2v1h-2zM660 399h2v1h-2zM788 399h1v1h-1zM122 400h1v1h-1zM435 400h1v1h-1zM626 400h3v1h-3zM662 400h2v1h-2zM787 400h1v1h-1zM120 401h2v1h-2zM436 401h1v1h-1zM624 401h2v1h-2zM664 401h1v1h-1zM786 401h1v1h-1zM119 402h1v1h-1zM621 402h3v1h-3zM665 402h2v1h-2zM785 402h1v1h-1zM437 402h1v2h-1zM118 403h1v1h-1zM618 403h3v1h-3zM667 403h2v1h-2zM784 403h1v1h-1zM116 404h2v1h-2zM438 404h1v1h-1zM616 404h2v1h-2zM669 404h2v1h-2zM783 404h1v1h-1zM115 405h1v1h-1zM439 405h1v1h-1zM613 405h3v1h-3zM671 405h2v1h-2zM782 405h1v1h-1zM114 406h1v1h-1zM440 406h1v1h-1zM611 406h2v1h-2zM673 406h2v1h-2zM781 406h1v1h-1zM112 407h2v1h-2zM609 407h2v1h-2zM675 407h2v1h-2zM780 407h1v1h-1zM441 407h1v2h-1zM111 408h1v1h-1zM607 408h2v1h-2zM677 408h3v1h-3zM779 408h1v1h-1zM110 409h1v1h-1zM442 409h1v1h-1zM605 409h2v1h-2zM680 409h2v1h-2zM778 409h1v1h-1zM108 410h2v1h-2zM443 410h1v1h-1zM603 410h2v1h-2zM682 410h4v1h-4zM777 410h1v1h-1zM107 411h1v1h-1zM444 411h1v1h-1zM601 411h2v1h-2zM686 411h4v1h-4zM776 411h1v1h-1zM106 412h1v1h-1zM445 412h1v1h-1zM600 412h1v1h-1zM690 412h6v1h-6zM728 412h8v1h-8zM774 412h2v1h-2zM104 413h2v1h-2zM446 413h2v1h-2zM598 413h2v1h-2zM696 413h6v1h-6zM722 413h6v1h-6zM736 413h6v1h-6zM773 413h1v1h-1zM103 414h1v1h-1zM448 414h1v1h-1zM596 414h2v1h-2zM702 414h4v1h-4zM718 414h4v1h-4zM742 414h4v1h-4zM772 414h1v1h-1zM102 415h1v1h-1zM449 415h1v1h-1zM594 415h2v1h-2zM706 415h12v1h-12zM746 415h4v1h-4zM770 415h2v1h-2zM100 416h2v1h-2zM450 416h1v1h-1zM563 416h5v1h-5zM592 416h2v1h-2zM750 416h4v1h-4zM768 416h2v1h-2zM99 417h1v1h-1zM451 417h1v1h-1zM561 417h2v1h-2zM568 417h16v1h-16zM589 417h3v1h-3zM754 417h6v1h-6zM765 417h3v1h-3zM98 418h1v1h-1zM452 418h2v1h-2zM559 418h2v1h-2zM584 418h5v1h-5zM760 418h5v1h-5zM97 419h1v1h-1zM454 419h1v1h-1zM557 419h2v1h-2zM96 420h1v1h-1zM455 420h1v1h-1zM555 420h2v1h-2zM456 421h2v1h-2zM554 421h1v1h-1zM95 421h1v2h-1zM458 422h1v1h-1zM552 422h2v1h-2zM94 423h1v1h-1zM459 423h1v1h-1zM551 423h1v1h-1zM93 424h1v1h-1zM460 424h2v1h-2zM550 424h1v1h-1zM92 425h1v1h-1zM462 425h1v1h-1zM548 425h2v1h-2zM463 426h1v1h-1zM547 426h1v1h-1zM91 426h1v2h-1zM464 427h2v1h-2zM546 427h1v1h-1zM466 428h1v1h-1zM545 428h1v1h-1zM90 428h1v2h-1zM467 429h1v1h-1zM544 429h1v1h-1zM468 430h2v1h-2zM542 430h2v1h-2zM89 430h1v2h-1zM470 431h2v1h-2zM541 431h1v1h-1zM472 432h1v1h-1zM540 432h1v1h-1zM88 432h1v2h-1zM473 433h2v1h-2zM539 433h1v1h-1zM475 434h1v1h-1zM538 434h1v1h-1zM87 434h1v2h-1zM476 435h2v1h-2zM537 435h1v1h-1zM478 436h2v1h-2zM536 436h1v1h-1zM86 436h1v2h-1zM480 437h1v1h-1zM535 437h1v1h-1zM481 438h2v1h-2zM534 438h1v1h-1zM85 438h1v2h-1zM483 439h2v1h-2zM533 439h1v1h-1zM485 440h2v1h-2zM532 440h1v1h-1zM84 440h1v2h-1zM487 441h2v1h-2zM531 441h1v1h-1zM489 442h2v1h-2zM530 442h1v1h-1zM83 442h1v3h-1zM491 443h2v1h-2zM528 443h2v1h-2zM493 444h2v1h-2zM527 444h1v1h-1zM495 445h2v1h-2zM526 445h1v1h-1zM82 445h1v2h-1zM497 446h2v1h-2zM524 446h2v1h-2zM499 447h2v1h-2zM522 447h2v1h-2zM81 447h1v2h-1zM501 448h3v1h-3zM518 448h4v1h-4zM504 449h2v1h-2zM512 449h6v1h-6zM80 449h1v2h-1zM506 450h6v1h-6zM79 451h1v3h-1zM78 454h1v2h-1zM77 456h1v2h-1zM76 458h1v2h-1zM75 460h1v2h-1zM74 462h1v2h-1zM73 464h1v2h-1zM72 466h1v2h-1zM71 468h1v1h-1zM70 469h1v2h-1zM69 471h1v2h-1zM68 473h1v2h-1zM67 475h1v1h-1zM66 476h1v2h-1zM65 478h1v2h-1zM64 480h1v2h-1zM63 482h1v1h-1zM62 483h1v2h-1zM61 485h1v2h-1zM60 487h1v2h-1zM59 489h1v1h-1zM58 490h1v2h-1zM57 492h1v2h-1zM56 494h1v2h-1zM55 496h1v2h-1zM54 498h1v2h-1zM53 500h1v2h-1zM52 502h1v2h-1zM51 504h1v2h-1zM50 506h1v2h-1zM49 508h1v2h-1zM48 510h1v2h-1zM47 512h1v2h-1zM46 514h1v2h-1zM45 516h1v2h-1zM44 518h1v2h-1zM43 520h1v3h-1zM42 523h1v2h-1zM41 525h1v2h-1zM40 527h1v3h-1zM39 530h1v2h-1zM38 532h1v3h-1zM37 535h1v2h-1zM36 537h1v1h-1z"/>
<path class="c" fill="#ffa500" d="M1139 103h1v1h-1zM1137 104h2v1h-2zM1140 104h2v1h-2zM1135 105h2v1h-2zM1142 105h1v1h-1zM1133 106h2v1h-2zM1143 106h1v1h-1zM1115 107h3v1h-3zM1130 107h3v1h-3zM1144 107h2v1h-2zM1113 108h2v1h-2zM1118 108h4v1h-4zM1126 108h4v1h-4zM1146 108h1v1h-1zM1111 109h2v1h-2zM1122 109h4v1h-4zM1147 109h1v1h-1zM1109 110h2v1h-2zM1148 110h1v2h-1zM1107 111h2v1h-2zM1106 112h1v1h-1zM1149 112h1v2h-1zM1105 113h1v1h-1zM1104 114h1v1h-1zM1150 114h1v2h-1zM1102 115h2v1h-2zM1101 116h1v1h-1zM1151 116h1v1h-1zM1100 117h1v1h-1zM1152 117h1v2h-1zM1099 118h1v1h-1zM1097 119h2v1h-2zM1153 119h1v2h-1zM1095 120h2v1h-2zM1093 121h2v1h-2zM1154 121h1v2h-1zM1091 122h2v1h-2zM1090 123h1v1h-1zM1155 123h1v1h-1zM1089 124h1v1h-1zM1156 124h1v2h-1zM1088 125h1v1h-1zM1086 126h2v1h-2zM1157 126h1v2h-1zM1085 127h1v1h-1zM1084 128h1v1h-1zM1158 128h1v2h-1zM1027 129h2v1h-2zM1083 129h1v1h-1zM1025 130h2v1h-2zM1029 130h2v1h-2zM1082 130h1v2h-1zM1159 130h1v2h-1zM1023 131h2v1h-2zM1031 131h2v1h-2zM1021 132h2v1h-2zM1033 132h2v1h-2zM1081 132h1v2h-1zM1160 132h1v2h-1zM1019 133h2v1h-2zM1035 133h1v1h-1zM1036 134h1v1h-1zM1018 134h1v2h-1zM1080 134h1v2h-1zM1161 134h1v2h-1zM1037 135h1v1h-1zM1038 136h2v1h-2zM1079 136h1v1h-1zM1017 136h1v2h-1zM1162 136h1v2h-1zM1040 137h1v1h-1zM1078 137h1v2h-1zM1041 138h1v1h-1zM1163 138h1v1h-1zM1016 138h1v2h-1zM1042 139h1v1h-1zM1077 139h1v2h-1zM1164 139h1v2h-1zM1015 140h1v1h-1zM1043 140h1v1h-1zM1044 141h2v1h-2zM1014 141h1v2h-1zM1076 141h1v2h-1zM1165 141h1v2h-1zM1046 142h1v1h-1zM1047 143h1v1h-1zM1075 143h1v1h-1zM1166 143h1v1h-1zM1013 143h1v2h-1zM1048 144h2v1h-2zM1074 144h1v1h-1zM1167 144h1v2h-1zM1050 145h1v1h-1zM1012 145h1v2h-1zM1073 145h1v2h-1zM1051 146h1v1h-1zM1168 146h1v1h-1zM1052 147h2v1h-2zM1072 147h1v1h-1zM1011 147h1v2h-1zM1169 147h1v2h-1zM1054 148h1v1h-1zM1071 148h1v1h-1zM1055 149h1v1h-1zM1070 149h1v1h-1zM1010 149h1v2h-1zM1170 149h1v2h-1zM1056 150h2v1h-2zM1069 150h1v2h-1zM1058 151h1v1h-1zM1009 151h1v2h-1zM1171 151h1v2h-1zM1059 152h5v1h-5zM1068 152h1v1h-1zM1064 153h4v1h-4zM1172 153h1v2h-1zM1008 153h1v3h-1zM1173 155h1v2h-1zM1007 156h1v2h-1zM1174 157h1v2h-1zM1006 158h1v3h-1zM1175 159h1v2h-1zM1005 161h1v2h-1zM1176 161h1v2h-1zM1004 163h1v2h-1zM1177 163h1v2h-1zM1003 165h1v2h-1zM1178 165h1v2h-1zM1002 167h1v2h-1zM1179 167h1v2h-1zM1001 169h1v2h-1zM1180 169h1v2h-1zM1000 171h1v2h-1zM1181 171h1v2h-1zM999 173h1v2h-1zM1182 173h1v2h-1zM1183 175h1v1h-1zM1257 175h2v1h-2zM998 175h1v2h-1zM1255 176h2v1h-2zM1184 176h1v2h-1zM1253 177h2v1h-2zM997 177h1v2h-1zM1243 178h10v1h-10zM1185 178h1v2h-1zM1242 179h1v1h-1zM996 179h1v2h-1zM1186 180h1v2h-1zM1241 180h1v2h-1zM995 181h1v2h-1zM1187 182h1v1h-1zM1240 182h1v1h-1zM939 183h1v1h-1zM994 183h1v1h-1zM1188 183h1v1h-1zM1239 183h1v1h-1zM937 184h2v1h-2zM940 184h1v1h-1zM993 184h1v1h-1zM1238 184h1v1h-1zM1189 184h1v2h-1zM936 185h1v1h-1zM992 185h1v1h-1zM941 185h1v2h-1zM1237 185h1v2h-1zM934 186h2v1h-2zM990 186h2v1h-2zM1190 186h1v1h-1zM932 187h2v1h-2zM942 187h1v1h-1zM989 187h1v1h-1zM1191 187h1v1h-1zM1236 187h1v1h-1zM931 188h1v1h-1zM943 188h1v1h-1zM988 188h1v1h-1zM1192 188h1v1h-1zM1235 188h1v1h-1zM944 189h1v1h-1zM987 189h1v1h-1zM930 189h1v2h-1zM1193 189h1v2h-1zM1234 189h1v2h-1zM986 190h1v1h-1zM945 190h1v2h-1zM985 191h1v1h-1zM1194 191h1v1h-1zM929 191h1v2h-1zM1233 191h1v2h-1zM946 192h1v1h-1zM984 192h1v1h-1zM1195 192h1v1h-1zM928 193h1v1h-1zM947 193h5v1h-5zM982 193h2v1h-2zM1196 193h1v1h-1zM1232 193h1v2h-1zM952 194h5v1h-5zM981 194h1v1h-1zM1197 194h1v1h-1zM927 194h1v2h-1zM957 195h3v1h-3zM980 195h1v1h-1zM1198 195h1v1h-1zM1231 195h1v1h-1zM926 196h1v1h-1zM960 196h2v1h-2zM978 196h2v1h-2zM1199 196h1v2h-1zM1230 196h1v2h-1zM962 197h4v1h-4zM976 197h2v1h-2zM925 197h1v2h-1zM966 198h4v1h-4zM973 198h3v1h-3zM1200 198h1v1h-1zM1229 198h1v2h-1zM970 199h3v1h-3zM1201 199h1v1h-1zM924 199h1v2h-1zM1202 200h1v1h-1zM1228 200h1v2h-1zM1203 201h2v1h-2zM923 201h1v2h-1zM1205 202h3v1h-3zM1227 202h1v1h-1zM1208 203h2v1h-2zM1226 203h1v1h-1zM922 203h1v2h-1zM1210 204h2v1h-2zM1225 204h1v1h-1zM1212 205h2v1h-2zM1224 205h1v1h-1zM921 205h1v2h-1zM1214 206h2v1h-2zM1222 206h2v1h-2zM1216 207h1v1h-1zM1221 207h1v1h-1zM920 207h1v2h-1zM1217 208h2v1h-2zM1220 208h1v1h-1zM1219 209h1v1h-1zM919 209h1v3h-1zM918 212h1v2h-1zM917 214h1v2h-1zM916 216h1v2h-1zM915 218h1v3h-1zM914 221h1v3h-1zM913 224h1v3h-1zM912 227h1v3h-1zM911 230h1v3h-1zM910 233h1v3h-1zM909 236h1v3h-1zM908 239h1v3h-1zM907 242h1v3h-1zM906 245h1v3h-1zM905 248h1v3h-1zM904 251h1v3h-1zM903 254h1v4h-1zM902 258h1v3h-1zM901 261h1v3h-1zM900 264h1v3h-1zM899 267h1v3h-1zM898 270h1v3h-1zM897 273h1v3h-1zM896 276h1v3h-1zM895 279h1v3h-1zM894 282h1v3h-1zM893 285h1v3h-1zM892 288h1v3h-1zM891 291h1v2h-1zM890 293h1v2h-1zM889 295h1v2h-1zM888 297h1v2h-1zM887 299h1v2h-1zM886 301h1v2h-1zM885 303h1v2h-1zM884 305h1v2h-1zM883 307h1v1h-1zM882 308h1v2h-1zM881 310h1v2h-1zM880 312h1v2h-1zM879 314h1v1h-1zM878 315h1v2h-1zM877 317h1v2h-1zM876 319h1v2h-1zM875 321h1v1h-1zM874 322h1v2h-1zM873 324h1v2h-1zM274 325h2v1h-2zM270 326h4v1h-4zM276 326h1v1h-1zM872 326h1v2h-1zM267 327h3v1h-3zM277 327h1v1h-1zM278 328h1v1h-1zM266 328h1v2h-1zM871 328h1v2h-1zM279 329h1v1h-1zM280 330h1v1h-1zM265 330h1v2h-1zM870 330h1v2h-1zM281 331h1v1h-1zM282 332h1v1h-1zM264 332h1v2h-1zM869 332h1v2h-1zM283 333h1v1h-1zM263 334h1v1h-1zM284 334h1v1h-1zM868 334h1v2h-1zM285 335h1v1h-1zM262 335h1v2h-1zM286 336h1v1h-1zM867 336h1v2h-1zM261 337h1v2h-1zM287 337h1v2h-1zM866 338h1v1h-1zM288 339h1v1h-1zM260 339h1v2h-1zM865 339h1v2h-1zM289 340h1v1h-1zM259 341h1v1h-1zM290 341h1v1h-1zM864 341h1v1h-1zM187 342h1v1h-1zM291 342h1v1h-1zM863 342h1v1h-1zM258 342h1v2h-1zM185 343h2v1h-2zM188 343h1v1h-1zM862 343h1v1h-1zM292 343h1v2h-1zM183 344h2v1h-2zM189 344h1v2h-1zM257 344h1v2h-1zM861 344h1v2h-1zM181 345h2v1h-2zM293 345h1v2h-1zM179 346h2v1h-2zM190 346h1v1h-1zM860 346h1v1h-1zM256 346h1v2h-1zM178 347h1v1h-1zM191 347h1v1h-1zM294 347h1v1h-1zM859 347h1v1h-1zM192 348h1v1h-1zM858 348h1v1h-1zM177 348h1v2h-1zM255 348h1v2h-1zM295 348h1v2h-1zM856 349h2v1h-2zM193 349h1v2h-1zM176 350h1v1h-1zM296 350h1v1h-1zM855 350h1v1h-1zM254 350h1v2h-1zM175 351h1v1h-1zM194 351h1v1h-1zM854 351h1v1h-1zM297 351h1v2h-1zM174 352h1v1h-1zM195 352h1v1h-1zM852 352h2v1h-2zM253 352h1v2h-1zM826 353h2v1h-2zM851 353h1v1h-1zM173 353h1v2h-1zM196 353h1v2h-1zM298 353h1v2h-1zM824 354h2v1h-2zM828 354h1v1h-1zM850 354h1v1h-1zM252 354h1v2h-1zM172 355h1v1h-1zM299 355h1v1h-1zM821 355h3v1h-3zM829 355h1v1h-1zM849 355h1v1h-1zM197 355h1v2h-1zM171 356h1v1h-1zM818 356h3v1h-3zM830 356h1v1h-1zM848 356h1v1h-1zM251 356h1v2h-1zM300 356h1v2h-1zM198 357h1v1h-1zM814 357h4v1h-4zM831 357h1v1h-1zM847 357h1v1h-1zM170 357h1v2h-1zM301 358h1v1h-1zM810 358h4v1h-4zM832 358h1v1h-1zM846 358h1v1h-1zM199 358h1v2h-1zM250 358h1v2h-1zM808 359h2v1h-2zM833 359h1v1h-1zM845 359h1v1h-1zM169 359h1v2h-1zM302 359h1v2h-1zM200 360h1v1h-1zM363 360h2v1h-2zM805 360h3v1h-3zM834 360h1v1h-1zM844 360h1v1h-1zM249 360h1v2h-1zM303 361h1v1h-1zM361 361h2v1h-2zM365 361h3v1h-3zM803 361h2v1h-2zM835 361h9v1h-9zM168 361h1v2h-1zM201 361h1v2h-1zM360 362h1v1h-1zM368 362h2v1h-2zM387 362h1v1h-1zM802 362h1v1h-1zM248 362h1v2h-1zM304 362h1v2h-1zM358 363h2v1h-2zM370 363h3v1h-3zM385 363h2v1h-2zM388 363h2v1h-2zM747 363h1v1h-1zM801 363h1v1h-1zM167 363h1v2h-1zM202 363h1v2h-1zM305 364h1v1h-1zM356 364h2v1h-2zM373 364h3v1h-3zM383 364h2v1h-2zM390 364h2v1h-2zM635 364h5v1h-5zM748 364h1v1h-1zM800 364h1v1h-1zM247 364h1v2h-1zM746 364h1v2h-1zM203 365h1v1h-1zM355 365h1v1h-1zM376 365h2v1h-2zM381 365h2v1h-2zM392 365h1v1h-1zM634 365h1v1h-1zM640 365h6v1h-6zM749 365h1v1h-1zM166 365h1v2h-1zM306 365h1v2h-1zM799 365h1v2h-1zM354 366h1v1h-1zM378 366h3v1h-3zM393 366h2v1h-2zM633 366h1v1h-1zM646 366h4v1h-4zM745 366h1v1h-1zM750 366h1v1h-1zM204 366h1v2h-1zM246 366h1v2h-1zM307 367h1v1h-1zM353 367h1v1h-1zM395 367h1v1h-1zM632 367h1v1h-1zM650 367h2v1h-2zM798 367h1v1h-1zM165 367h1v2h-1zM744 367h1v2h-1zM751 367h1v2h-1zM205 368h1v1h-1zM308 368h1v1h-1zM352 368h1v1h-1zM630 368h2v1h-2zM652 368h1v1h-1zM797 368h1v1h-1zM245 368h1v2h-1zM396 368h1v2h-1zM309 369h1v1h-1zM351 369h1v1h-1zM629 369h1v1h-1zM653 369h1v1h-1zM743 369h1v1h-1zM752 369h1v1h-1zM796 369h1v1h-1zM164 369h1v2h-1zM206 369h1v2h-1zM310 370h1v1h-1zM350 370h1v1h-1zM628 370h1v1h-1zM654 370h1v1h-1zM753 370h1v1h-1zM795 370h1v1h-1zM244 370h1v2h-1zM397 370h1v2h-1zM742 370h1v2h-1zM163 371h1v1h-1zM207 371h1v1h-1zM311 371h1v1h-1zM349 371h1v1h-1zM627 371h1v1h-1zM655 371h1v1h-1zM754 371h1v1h-1zM794 371h1v2h-1zM243 372h1v1h-1zM312 372h1v1h-1zM348 372h1v1h-1zM398 372h1v1h-1zM656 372h1v1h-1zM741 372h1v1h-1zM755 372h1v1h-1zM162 372h1v2h-1zM208 372h1v2h-1zM626 372h1v2h-1zM313 373h1v1h-1zM331 373h3v1h-3zM346 373h2v1h-2zM657 373h1v1h-1zM756 373h1v1h-1zM242 373h1v2h-1zM399 373h1v2h-1zM740 373h1v2h-1zM793 373h1v2h-1zM161 374h1v1h-1zM209 374h1v1h-1zM314 374h1v1h-1zM330 374h1v1h-1zM334 374h4v1h-4zM342 374h4v1h-4zM658 374h1v1h-1zM757 374h1v1h-1zM625 374h1v2h-1zM315 375h1v1h-1zM329 375h1v1h-1zM338 375h4v1h-4zM400 375h1v1h-1zM739 375h1v1h-1zM758 375h1v1h-1zM792 375h1v1h-1zM160 375h1v2h-1zM210 375h1v2h-1zM241 375h1v2h-1zM659 375h1v2h-1zM316 376h2v1h-2zM328 376h1v1h-1zM759 376h1v1h-1zM401 376h1v2h-1zM624 376h1v2h-1zM738 376h1v2h-1zM791 376h1v2h-1zM159 377h1v1h-1zM211 377h1v1h-1zM318 377h2v1h-2zM326 377h2v1h-2zM760 377h1v1h-1zM240 377h1v2h-1zM660 377h1v3h-1zM212 378h1v1h-1zM320 378h1v1h-1zM325 378h1v1h-1zM737 378h1v1h-1zM761 378h1v1h-1zM790 378h1v1h-1zM158 378h1v2h-1zM402 378h1v2h-1zM623 378h1v2h-1zM213 379h1v1h-1zM239 379h1v1h-1zM321 379h2v1h-2zM324 379h1v1h-1zM762 379h1v1h-1zM736 379h1v2h-1zM789 379h1v2h-1zM157 380h1v1h-1zM214 380h1v1h-1zM323 380h1v1h-1zM403 380h1v1h-1zM763 380h1v1h-1zM238 380h1v2h-1zM622 380h1v2h-1zM661 380h1v3h-1zM735 381h1v1h-1zM764 381h2v1h-2zM156 381h1v2h-1zM215 381h1v2h-1zM404 381h1v2h-1zM788 381h1v2h-1zM766 382h1v1h-1zM237 382h1v2h-1zM621 382h1v2h-1zM734 382h1v2h-1zM106 383h10v1h-10zM155 383h1v1h-1zM216 383h1v1h-1zM405 383h1v1h-1zM767 383h1v1h-1zM786 383h2v1h-2zM662 383h1v3h-1zM104 384h2v1h-2zM154 384h1v1h-1zM217 384h1v1h-1zM733 384h1v1h-1zM768 384h2v1h-2zM784 384h2v1h-2zM116 384h1v2h-1zM236 384h1v2h-1zM406 384h1v2h-1zM620 384h1v2h-1zM90 385h6v1h-6zM101 385h3v1h-3zM218 385h1v1h-1zM770 385h1v1h-1zM781 385h3v1h-3zM153 385h1v2h-1zM732 385h1v2h-1zM88 386h2v1h-2zM96 386h5v1h-5zM219 386h1v1h-1zM235 386h1v1h-1zM407 386h1v1h-1zM619 386h1v1h-1zM771 386h10v1h-10zM117 386h1v2h-1zM663 386h1v4h-1zM85 387h3v1h-3zM152 387h1v1h-1zM220 387h2v1h-2zM233 387h2v1h-2zM408 387h1v2h-1zM618 387h1v2h-1zM731 387h1v2h-1zM83 388h2v1h-2zM151 388h1v1h-1zM222 388h2v1h-2zM232 388h1v1h-1zM118 388h1v2h-1zM150 389h1v1h-1zM224 389h1v1h-1zM230 389h2v1h-2zM409 389h1v1h-1zM82 389h1v2h-1zM617 389h1v2h-1zM730 389h1v3h-1zM225 390h2v1h-2zM228 390h2v1h-2zM119 390h1v2h-1zM149 390h1v2h-1zM410 390h1v2h-1zM664 390h1v3h-1zM227 391h1v1h-1zM616 391h1v1h-1zM81 391h1v2h-1zM148 392h1v1h-1zM120 392h1v2h-1zM411 392h1v2h-1zM615 392h1v2h-1zM729 392h1v3h-1zM80 393h1v1h-1zM147 393h1v1h-1zM665 393h1v3h-1zM146 394h1v1h-1zM614 394h1v1h-1zM79 394h1v2h-1zM121 394h1v2h-1zM412 394h1v2h-1zM145 395h1v1h-1zM546 395h3v1h-3zM613 395h1v2h-1zM728 395h1v3h-1zM78 396h1v1h-1zM144 396h1v1h-1zM544 396h2v1h-2zM549 396h3v1h-3zM122 396h1v2h-1zM413 396h1v3h-1zM666 396h1v3h-1zM142 397h2v1h-2zM541 397h3v1h-3zM552 397h2v1h-2zM77 397h1v2h-1zM612 397h1v2h-1zM123 398h1v1h-1zM141 398h1v1h-1zM539 398h2v1h-2zM554 398h10v1h-10zM727 398h1v4h-1zM124 399h1v1h-1zM140 399h1v1h-1zM537 399h2v1h-2zM76 399h1v2h-1zM414 399h1v2h-1zM564 399h1v2h-1zM611 399h1v2h-1zM667 399h1v3h-1zM125 400h1v1h-1zM139 400h1v1h-1zM536 400h1v1h-1zM66 401h10v1h-10zM126 401h1v1h-1zM138 401h1v1h-1zM534 401h2v1h-2zM565 401h1v2h-1zM415 401h1v3h-1zM610 401h1v3h-1zM62 402h4v1h-4zM137 402h1v1h-1zM532 402h2v1h-2zM127 402h1v2h-1zM668 402h1v3h-1zM726 402h1v3h-1zM59 403h3v1h-3zM136 403h1v1h-1zM531 403h1v1h-1zM566 403h1v1h-1zM57 404h2v1h-2zM128 404h1v1h-1zM134 404h2v1h-2zM530 404h1v1h-1zM416 404h1v2h-1zM567 404h1v2h-1zM609 404h1v3h-1zM55 405h2v1h-2zM129 405h1v1h-1zM133 405h1v1h-1zM529 405h1v2h-1zM725 405h1v3h-1zM669 405h1v4h-1zM53 406h2v1h-2zM130 406h1v1h-1zM132 406h1v1h-1zM568 406h1v1h-1zM417 406h1v3h-1zM52 407h1v1h-1zM131 407h1v1h-1zM528 407h1v1h-1zM51 407h1v2h-1zM569 407h1v2h-1zM608 407h1v3h-1zM527 408h1v1h-1zM724 408h1v3h-1zM526 409h1v1h-1zM418 409h1v2h-1zM570 409h1v2h-1zM50 409h1v3h-1zM670 409h1v3h-1zM525 410h1v2h-1zM607 410h1v2h-1zM571 411h1v1h-1zM419 411h1v3h-1zM723 411h1v4h-1zM524 412h1v1h-1zM572 412h1v2h-1zM49 412h1v3h-1zM606 412h1v3h-1zM671 412h1v3h-1zM523 413h1v1h-1zM522 414h1v1h-1zM573 414h1v1h-1zM420 414h1v3h-1zM521 415h1v1h-1zM574 415h1v2h-1zM48 415h1v3h-1zM605 415h1v3h-1zM672 415h1v3h-1zM722 415h1v4h-1zM520 416h1v1h-1zM519 417h1v1h-1zM575 417h1v1h-1zM421 417h1v3h-1zM518 418h1v1h-1zM47 418h1v2h-1zM576 418h1v2h-1zM604 418h1v3h-1zM673 418h1v4h-1zM517 419h1v1h-1zM721 419h1v4h-1zM516 420h1v1h-1zM577 420h1v1h-1zM46 420h1v3h-1zM422 420h1v3h-1zM514 421h2v1h-2zM578 421h1v2h-1zM603 421h1v2h-1zM512 422h2v1h-2zM674 422h1v3h-1zM509 423h3v1h-3zM579 423h1v1h-1zM602 423h1v1h-1zM45 423h1v3h-1zM423 423h1v4h-1zM720 423h1v5h-1zM507 424h2v1h-2zM601 424h1v1h-1zM580 424h1v2h-1zM506 425h1v1h-1zM600 425h1v1h-1zM675 425h1v3h-1zM505 426h1v1h-1zM581 426h1v2h-1zM599 426h1v2h-1zM44 426h1v3h-1zM504 427h1v1h-1zM424 427h1v3h-1zM502 428h2v1h-2zM598 428h1v1h-1zM582 428h1v2h-1zM676 428h1v3h-1zM719 428h1v4h-1zM501 429h1v1h-1zM597 429h1v1h-1zM43 429h1v3h-1zM500 430h1v1h-1zM583 430h1v1h-1zM596 430h1v1h-1zM425 430h1v3h-1zM499 431h1v1h-1zM595 431h1v1h-1zM584 431h1v2h-1zM677 431h1v3h-1zM498 432h1v1h-1zM594 432h1v1h-1zM42 432h1v2h-1zM718 432h1v5h-1zM497 433h1v1h-1zM592 433h2v1h-2zM585 433h1v2h-1zM426 433h1v3h-1zM496 434h1v1h-1zM591 434h1v1h-1zM41 434h1v2h-1zM678 434h1v3h-1zM494 435h2v1h-2zM590 435h1v1h-1zM586 435h1v2h-1zM493 436h1v1h-1zM588 436h2v1h-2zM40 436h1v2h-1zM427 436h1v3h-1zM492 437h1v1h-1zM587 437h1v1h-1zM679 437h1v3h-1zM717 437h1v4h-1zM491 438h1v1h-1zM39 438h1v2h-1zM490 439h1v1h-1zM428 439h1v3h-1zM489 440h1v1h-1zM38 440h1v2h-1zM680 440h1v3h-1zM488 441h1v1h-1zM716 441h1v4h-1zM37 442h1v2h-1zM487 442h1v2h-1zM429 442h1v3h-1zM681 443h1v3h-1zM486 444h1v1h-1zM36 444h1v2h-1zM485 445h1v1h-1zM430 445h1v3h-1zM715 445h1v4h-1zM484 446h1v1h-1zM35 446h1v3h-1zM682 446h1v3h-1zM483 447h1v1h-1zM482 448h1v1h-1zM431 448h1v4h-1zM34 449h1v2h-1zM481 449h1v2h-1zM683 449h1v3h-1zM714 449h1v3h-1zM480 451h1v1h-1zM33 451h1v2h-1zM479 452h1v1h-1zM684 452h1v2h-1zM432 452h1v3h-1zM713 452h1v3h-1zM478 453h1v1h-1zM32 453h1v2h-1zM477 454h1v2h-1zM685 454h1v3h-1zM31 455h1v3h-1zM433 455h1v3h-1zM712 455h1v3h-1zM476 456h1v1h-1zM475 457h1v1h-1zM686 457h1v3h-1zM30 458h1v2h-1zM474 458h1v2h-1zM711 458h1v2h-1zM434 458h1v3h-1zM29 460h1v2h-1zM473 460h1v2h-1zM687 460h1v2h-1zM710 460h1v3h-1zM435 461h1v3h-1zM28 462h1v2h-1zM472 462h1v2h-1zM688 462h1v3h-1zM709 463h1v3h-1zM471 464h1v1h-1zM436 464h1v2h-1zM27 464h1v3h-1zM470 465h1v2h-1zM689 465h1v3h-1zM437 466h1v2h-1zM708 466h1v3h-1zM26 467h1v2h-1zM469 467h1v2h-1zM438 468h1v2h-1zM690 468h1v2h-1zM468 469h1v2h-1zM707 469h1v2h-1zM25 469h1v3h-1zM439 470h1v2h-1zM691 470h1v2h-1zM467 471h1v1h-1zM692 471h1v1h-1zM705 471h2v1h-2zM466 472h1v1h-1zM693 472h2v1h-2zM704 472h1v1h-1zM440 472h1v2h-1zM24 472h1v3h-1zM465 473h1v1h-1zM695 473h2v1h-2zM702 473h2v1h-2zM464 474h1v1h-1zM697 474h2v1h-2zM700 474h2v1h-2zM441 474h1v2h-1zM463 475h1v1h-1zM699 475h1v1h-1zM23 475h1v2h-1zM462 476h1v1h-1zM442 476h1v2h-1zM461 477h1v1h-1zM22 477h1v3h-1zM443 478h1v1h-1zM460 478h1v1h-1zM444 479h2v1h-2zM459 479h1v1h-1zM446 480h1v1h-1zM457 480h2v1h-2zM21 480h1v3h-1zM447 481h1v1h-1zM456 481h1v1h-1zM448 482h2v1h-2zM454 482h2v1h-2zM450 483h1v1h-1zM452 483h2v1h-2zM20 483h1v2h-1zM451 484h1v1h-1zM19 485h1v3h-1zM18 488h1v3h-1zM17 491h1v3h-1zM16 494h1v3h-1zM15 497h1v2h-1zM14 499h1v3h-1zM13 502h1v3h-1zM12 505h1v3h-1zM11 508h1v3h-1zM10 511h1v4h-1zM9 515h1v3h-1zM8 518h1v4h-1zM7 522h1v3h-1zM6 525h1v4h-1zM5 529h1v3h-1zM4 532h1v4h-1zM3 536h1v2h-1z"/>
</g>
<g class="c">
<rect x="3" y="81" width="1593" height="2" fill="#ff0000"/>
<rect x="2" y="79" width="6" height="6" fill="#ff0000"/>
<rect x="4" y="81" width="2" height="2" fill="#fff"/>
<rect x="1589" y="79" width="6" height="6" fill="#ff0000"/>
<rect x="1591" y="81" width="2" height="2" fill="#fff"/>
<rect x="3" y="142" width="1593" height="2" fill="#00ff00"/>
<rect x="2" y="140" width="6" height="6" fill="#00ff00"/>
<rect x="4" y="142" width="2" height="2" fill="#fff"/>
<rect x="1589" y="140" width="6" height="6" fill="#00ff00"/>
<rect x="1591" y="142" width="2" height="2" fill="#fff"/>
<rect x="3" y="204" width="1593" height="2" fill="#0000ff"/>
<rect x="2" y="202" width="6" height="6" fill="#0000ff"/>
<rect x="4" y="204" width="2" height="2" fill="#fff"/>
<rect x="1589" y="202" width="6" height="6" fill="#0000ff"/>
<rect x="1591" y="204" width="2" height="2" fill="#fff"/>
<rect x="3" y="266" width="1593" height="2" fill="#0000ff"/>
<rect x="2" y="264" width="6" height="6" fill="#0000ff"/>
<rect x="4" y="266" width="2" height="2" fill="#fff"/>
<rect x="1589" y="264" width="6" height="6" fill="#0000ff"/>
<rect x="1591" y="266" width="2" height="2" fill="#fff"/>
</g>
<g class="c">
<rect x="1596" y="40" width="2" height="1" fill="#000"/>
<rect x="1596" y="73" width="2" height="1" fill="#000"/>
<rect x="1596" y="106" width="2" height="1" fill="#000"/>
<rect x="1596" y="139" width="2" height="1" fill="#000"/>
<rect x="1596" y="172" width="2" height="1" fill="#000"/>
<rect x="1596" y="205" width="2" height="1" fill="#000"/>
<rect x="1596" y="238" width="2" height="1" fill="#000"/>
<rect x="1596" y="271" width="2" height="1" fill="#000"/>
<rect x="1596" y="304" width="2" height="1" fill="#000"/>
<rect x="1596" y="337" width="2" height="1" fill="#000"/>
<rect x="1596" y="370" width="2" height="1" fill="#000"/>
<rect x="1596" y="403" width="2" height="1" fill="#000"/>
<rect x="1596" y="436" width="2" height="1" fill="#000"/>
<rect x="1596" y="469" width="2" height="1" fill="#000"/>
<rect x="1596" y="502" width="2" height="1" fill="#000"/>
<rect x="1596" y="535" width="2" height="1" fill="#000"/>
<rect x="1596" y="542" width="2" height="1" fill="#000"/>
<rect x="1596" y="569" width="2" height="1" fill="#000"/>
<rect x="1596" y="605" width="2" height="1" fill="#000"/>
<rect x="1596" y="632" width="2" height="1" fill="#000"/>
<rect x="1596" y="636" width="2" height="1" fill="#000"/>
<rect x="1596" y="703" width="2" height="1" fill="#000"/>
<rect x="1596" y="727" width="2" height="1" fill="#000"/>
</g>
<text transform="translate(1601.3 43.4) scale(1 1.060)" style="font-size:9.15px;">1.23680</text>
<text transform="translate(1601.3 76.4) scale(1 1.060)" style="font-size:9.15px;">1.23140</text>
<text transform="translate(1601.3 109.4) scale(1 1.060)" style="font-size:9.15px;">1.22615</text>
<text transform="translate(1601.3 142.4) scale(1 1.060)" style="font-size:9.15px;">1.22075</text>
<text transform="translate(1601.3 175.4) scale(1 1.060)" style="font-size:9.15px;">1.21535</text>
<text transform="translate(1601.3 208.4) scale(1 1.060)" style="font-size:9.15px;">1.21010</text>
<text transform="translate(1601.3 241.4) scale(1 1.060)" style="font-size:9.15px;">1.20470</text>
<text transform="translate(1601.3 274.4) scale(1 1.060)" style="font-size:9.15px;">1.19930</text>
<text transform="translate(1601.3 307.4) scale(1 1.060)" style="font-size:9.15px;">1.19405</text>
<text transform="translate(1601.3 340.4) scale(1 1.060)" style="font-size:9.15px;">1.18865</text>
<text transform="translate(1601.3 373.4) scale(1 1.060)" style="font-size:9.15px;">1.18325</text>
<text transform="translate(1601.3 406.4) scale(1 1.060)" style="font-size:9.15px;">1.17785</text>
<text transform="translate(1601.3 439.4) scale(1 1.060)" style="font-size:9.15px;">1.17260</text>
<text transform="translate(1601.3 472.4) scale(1 1.060)" style="font-size:9.15px;">1.16720</text>
<text transform="translate(1601.3 505.4) scale(1 1.060)" style="font-size:9.15px;">1.16180</text>
<text transform="translate(1601.3 538.4) scale(1 1.060)" style="font-size:9.15px;">1.15655</text>
<g class="c">
<rect x="1597" y="76" width="39" height="11" fill="#ff0000"/>
<rect x="1597" y="137" width="39" height="11" fill="#00ff00"/>
<rect x="1597" y="174" width="39" height="11" fill="#000000"/>
<rect x="1597" y="199" width="39" height="11" fill="#0000ff"/>
<rect x="1597" y="261" width="39" height="11" fill="#0000ff"/>
</g>
<text class="w" transform="translate(1601.3 84.5) scale(1 1.060)" style="font-size:9.15px;">1.23002</text>
<text class="w" transform="translate(1601.3 145.5) scale(1 1.060)" style="font-size:9.15px;">1.22016</text>
<text class="w" transform="translate(1601.3 182.5) scale(1 1.060)" style="font-size:9.15px;">1.21423</text>
<text class="w" transform="translate(1601.3 207.5) scale(1 1.060)" style="font-size:9.15px;">1.21009</text>
<text class="w" transform="translate(1601.3 269.5) scale(1 1.060)" style="font-size:9.15px;">1.20001</text>
<text transform="translate(18 38.6) scale(1 1.032)" style="font-size:9.4px;">EURUSD,Daily  1.21274 1.21470 1.21188 1.21423</text>
<path class="c" d="M6 34h7l-3.5 4z" fill="#000"/>
<path class="c" d="M1271 28h9v1h-9zM1272 29h7v1h-7zM1273 30h5v1h-5zM1274 31h3v1h-3zM1275 32h1v1h-1z" fill="#c0c0c0"/>
<g class="c">
<path fill="#c0c0c0" d="M4 569h3v1h-3zM10 569h3v1h-3zM16 569h3v1h-3zM22 569h3v1h-3zM28 569h3v1h-3zM34 569h3v1h-3zM40 569h3v1h-3zM46 569h3v1h-3zM52 569h3v1h-3zM58 569h3v1h-3zM64 569h3v1h-3zM70 569h3v1h-3zM76 569h3v1h-3zM82 569h3v1h-3zM88 569h3v1h-3zM94 569h3v1h-3zM100 569h3v1h-3zM106 569h3v1h-3zM112 569h3v1h-3zM118 569h3v1h-3zM124 569h3v1h-3zM130 569h3v1h-3zM136 569h3v1h-3zM142 569h3v1h-3zM148 569h3v1h-3zM154 569h3v1h-3zM160 569h3v1h-3zM166 569h3v1h-3zM172 569h3v1h-3zM178 569h3v1h-3zM184 569h3v1h-3zM190 569h3v1h-3zM196 569h3v1h-3zM202 569h3v1h-3zM208 569h3v1h-3zM214 569h3v1h-3zM220 569h3v1h-3zM226 569h3v1h-3zM232 569h3v1h-3zM238 569h3v1h-3zM244 569h3v1h-3zM250 569h3v1h-3zM256 569h3v1h-3zM262 569h3v1h-3zM268 569h3v1h-3zM274 569h3v1h-3zM280 569h3v1h-3zM286 569h3v1h-3zM292 569h3v1h-3zM298 569h3v1h-3zM304 569h3v1h-3zM310 569h3v1h-3zM316 569h3v1h-3zM322 569h3v1h-3zM328 569h3v1h-3zM334 569h3v1h-3zM340 569h3v1h-3zM346 569h3v1h-3zM352 569h3v1h-3zM358 569h3v1h-3zM364 569h3v1h-3zM370 569h3v1h-3zM376 569h3v1h-3zM382 569h3v1h-3zM388 569h3v1h-3zM394 569h3v1h-3zM400 569h3v1h-3zM406 569h3v1h-3zM412 569h3v1h-3zM418 569h3v1h-3zM424 569h3v1h-3zM430 569h3v1h-3zM436 569h3v1h-3zM442 569h3v1h-3zM448 569h3v1h-3zM454 569h3v1h-3zM460 569h3v1h-3zM466 569h3v1h-3zM472 569h3v1h-3zM478 569h3v1h-3zM484 569h3v1h-3zM490 569h3v1h-3zM496 569h3v1h-3zM502 569h3v1h-3zM508 569h3v1h-3zM514 569h3v1h-3zM520 569h3v1h-3zM526 569h3v1h-3zM532 569h3v1h-3zM538 569h3v1h-3zM544 569h3v1h-3zM550 569h3v1h-3zM556 569h3v1h-3zM562 569h3v1h-3zM568 569h3v1h-3zM574 569h3v1h-3zM580 569h3v1h-3zM586 569h3v1h-3zM592 569h3v1h-3zM598 569h3v1h-3zM604 569h3v1h-3zM610 569h3v1h-3zM616 569h3v1h-3zM622 569h3v1h-3zM628 569h3v1h-3zM634 569h3v1h-3zM640 569h3v1h-3zM646 569h3v1h-3zM652 569h3v1h-3zM658 569h3v1h-3zM664 569h3v1h-3zM670 569h3v1h-3zM676 569h3v1h-3zM682 569h3v1h-3zM688 569h3v1h-3zM694 569h3v1h-3zM700 569h3v1h-3zM706 569h3v1h-3zM712 569h3v1h-3zM718 569h3v1h-3zM724 569h3v1h-3zM730 569h3v1h-3zM736 569h3v1h-3zM742 569h3v1h-3zM748 569h3v1h-3zM754 569h3v1h-3zM760 569h3v1h-3zM766 569h3v1h-3zM772 569h3v1h-3zM778 569h3v1h-3zM784 569h3v1h-3zM790 569h3v1h-3zM796 569h3v1h-3zM802 569h3v1h-3zM808 569h3v1h-3zM814 569h3v1h-3zM820 569h3v1h-3zM826 569h3v1h-3zM832 569h3v1h-3zM838 569h3v1h-3zM844 569h3v1h-3zM850 569h3v1h-3zM856 569h3v1h-3zM862 569h3v1h-3zM868 569h3v1h-3zM874 569h3v1h-3zM880 569h3v1h-3zM886 569h3v1h-3zM892 569h3v1h-3zM898 569h3v1h-3zM904 569h3v1h-3zM910 569h3v1h-3zM916 569h3v1h-3zM922 569h3v1h-3zM928 569h3v1h-3zM934 569h3v1h-3zM940 569h3v1h-3zM946 569h3v1h-3zM952 569h3v1h-3zM958 569h3v1h-3zM964 569h3v1h-3zM970 569h3v1h-3zM976 569h3v1h-3zM982 569h3v1h-3zM988 569h3v1h-3zM994 569h3v1h-3zM1000 569h3v1h-3zM1006 569h3v1h-3zM1012 569h3v1h-3zM1018 569h3v1h-3zM1024 569h3v1h-3zM1030 569h3v1h-3zM1036 569h3v1h-3zM1042 569h3v1h-3zM1048 569h3v1h-3zM1054 569h3v1h-3zM1060 569h3v1h-3zM1066 569h3v1h-3zM1072 569h3v1h-3zM1078 569h3v1h-3zM1084 569h3v1h-3zM1090 569h3v1h-3zM1096 569h3v1h-3zM1102 569h3v1h-3zM1108 569h3v1h-3zM1114 569h3v1h-3zM1120 569h3v1h-3zM1126 569h3v1h-3zM1132 569h3v1h-3zM1138 569h3v1h-3zM1144 569h3v1h-3zM1150 569h3v1h-3zM1156 569h3v1h-3zM1162 569h3v1h-3zM1168 569h3v1h-3zM1174 569h3v1h-3zM1180 569h3v1h-3zM1186 569h3v1h-3zM1192 569h3v1h-3zM1198 569h3v1h-3zM1204 569h3v1h-3zM1210 569h3v1h-3zM1216 569h3v1h-3zM1222 569h3v1h-3zM1228 569h3v1h-3zM1234 569h3v1h-3zM1240 569h3v1h-3zM1246 569h3v1h-3zM1252 569h3v1h-3zM1258 569h3v1h-3zM1264 569h3v1h-3zM1270 569h3v1h-3zM1276 569h3v1h-3zM1282 569h3v1h-3zM1288 569h3v1h-3zM1294 569h3v1h-3zM1300 569h3v1h-3zM1306 569h3v1h-3zM1312 569h3v1h-3zM1318 569h3v1h-3zM1324 569h3v1h-3zM1330 569h3v1h-3zM1336 569h3v1h-3zM1342 569h3v1h-3zM1348 569h3v1h-3zM1354 569h3v1h-3zM1360 569h3v1h-3zM1366 569h3v1h-3zM1372 569h3v1h-3zM1378 569h3v1h-3zM1384 569h3v1h-3zM1390 569h3v1h-3zM1396 569h3v1h-3zM1402 569h3v1h-3zM1408 569h3v1h-3zM1414 569h3v1h-3zM1420 569h3v1h-3zM1426 569h3v1h-3zM1432 569h3v1h-3zM1438 569h3v1h-3zM1444 569h3v1h-3zM1450 569h3v1h-3zM1456 569h3v1h-3zM1462 569h3v1h-3zM1468 569h3v1h-3zM1474 569h3v1h-3zM1480 569h3v1h-3zM1486 569h3v1h-3zM1492 569h3v1h-3zM1498 569h3v1h-3zM1504 569h3v1h-3zM1510 569h3v1h-3zM1516 569h3v1h-3zM1522 569h3v1h-3zM1528 569h3v1h-3zM1534 569h3v1h-3zM1540 569h3v1h-3zM1546 569h3v1h-3zM1552 569h3v1h-3zM1558 569h3v1h-3zM1564 569h3v1h-3zM1570 569h3v1h-3zM1576 569h3v1h-3zM1582 569h3v1h-3zM1588 569h3v1h-3zM1594 569h1v1h-1z"/>
<path fill="#c0c0c0" d="M4 605h3v1h-3zM10 605h3v1h-3zM16 605h3v1h-3zM22 605h3v1h-3zM28 605h3v1h-3zM34 605h3v1h-3zM40 605h3v1h-3zM46 605h3v1h-3zM52 605h3v1h-3zM58 605h3v1h-3zM64 605h3v1h-3zM70 605h3v1h-3zM76 605h3v1h-3zM82 605h3v1h-3zM88 605h3v1h-3zM94 605h3v1h-3zM100 605h3v1h-3zM106 605h3v1h-3zM112 605h3v1h-3zM118 605h3v1h-3zM124 605h3v1h-3zM130 605h3v1h-3zM136 605h3v1h-3zM142 605h3v1h-3zM148 605h3v1h-3zM154 605h3v1h-3zM160 605h3v1h-3zM166 605h3v1h-3zM172 605h3v1h-3zM178 605h3v1h-3zM184 605h3v1h-3zM190 605h3v1h-3zM196 605h3v1h-3zM202 605h3v1h-3zM208 605h3v1h-3zM214 605h3v1h-3zM220 605h3v1h-3zM226 605h3v1h-3zM232 605h3v1h-3zM238 605h3v1h-3zM244 605h3v1h-3zM250 605h3v1h-3zM256 605h3v1h-3zM262 605h3v1h-3zM268 605h3v1h-3zM274 605h3v1h-3zM280 605h3v1h-3zM286 605h3v1h-3zM292 605h3v1h-3zM298 605h3v1h-3zM304 605h3v1h-3zM310 605h3v1h-3zM316 605h3v1h-3zM322 605h3v1h-3zM328 605h3v1h-3zM334 605h3v1h-3zM340 605h3v1h-3zM346 605h3v1h-3zM352 605h3v1h-3zM358 605h3v1h-3zM364 605h3v1h-3zM370 605h3v1h-3zM376 605h3v1h-3zM382 605h3v1h-3zM388 605h3v1h-3zM394 605h3v1h-3zM400 605h3v1h-3zM406 605h3v1h-3zM412 605h3v1h-3zM418 605h3v1h-3zM424 605h3v1h-3zM430 605h3v1h-3zM436 605h3v1h-3zM442 605h3v1h-3zM448 605h3v1h-3zM454 605h3v1h-3zM460 605h3v1h-3zM466 605h3v1h-3zM472 605h3v1h-3zM478 605h3v1h-3zM484 605h3v1h-3zM490 605h3v1h-3zM496 605h3v1h-3zM502 605h3v1h-3zM508 605h3v1h-3zM514 605h3v1h-3zM520 605h3v1h-3zM526 605h3v1h-3zM532 605h3v1h-3zM538 605h3v1h-3zM544 605h3v1h-3zM550 605h3v1h-3zM556 605h3v1h-3zM562 605h3v1h-3zM568 605h3v1h-3zM574 605h3v1h-3zM580 605h3v1h-3zM586 605h3v1h-3zM592 605h3v1h-3zM598 605h3v1h-3zM604 605h3v1h-3zM610 605h3v1h-3zM616 605h3v1h-3zM622 605h3v1h-3zM628 605h3v1h-3zM634 605h3v1h-3zM640 605h3v1h-3zM646 605h3v1h-3zM652 605h3v1h-3zM658 605h3v1h-3zM664 605h3v1h-3zM670 605h3v1h-3zM676 605h3v1h-3zM682 605h3v1h-3zM688 605h3v1h-3zM694 605h3v1h-3zM700 605h3v1h-3zM706 605h3v1h-3zM712 605h3v1h-3zM718 605h3v1h-3zM724 605h3v1h-3zM730 605h3v1h-3zM736 605h3v1h-3zM742 605h3v1h-3zM748 605h3v1h-3zM754 605h3v1h-3zM760 605h3v1h-3zM766 605h3v1h-3zM772 605h3v1h-3zM778 605h3v1h-3zM784 605h3v1h-3zM790 605h3v1h-3zM796 605h3v1h-3zM802 605h3v1h-3zM808 605h3v1h-3zM814 605h3v1h-3zM820 605h3v1h-3zM826 605h3v1h-3zM832 605h3v1h-3zM838 605h3v1h-3zM844 605h3v1h-3zM850 605h3v1h-3zM856 605h3v1h-3zM862 605h3v1h-3zM868 605h3v1h-3zM874 605h3v1h-3zM880 605h3v1h-3zM886 605h3v1h-3zM892 605h3v1h-3zM898 605h3v1h-3zM904 605h3v1h-3zM910 605h3v1h-3zM916 605h3v1h-3zM922 605h3v1h-3zM928 605h3v1h-3zM934 605h3v1h-3zM940 605h3v1h-3zM946 605h3v1h-3zM952 605h3v1h-3zM958 605h3v1h-3zM964 605h3v1h-3zM970 605h3v1h-3zM976 605h3v1h-3zM982 605h3v1h-3zM988 605h3v1h-3zM994 605h3v1h-3zM1000 605h3v1h-3zM1006 605h3v1h-3zM1012 605h3v1h-3zM1018 605h3v1h-3zM1024 605h3v1h-3zM1030 605h3v1h-3zM1036 605h3v1h-3zM1042 605h3v1h-3zM1048 605h3v1h-3zM1054 605h3v1h-3zM1060 605h3v1h-3zM1066 605h3v1h-3zM1072 605h3v1h-3zM1078 605h3v1h-3zM1084 605h3v1h-3zM1090 605h3v1h-3zM1096 605h3v1h-3zM1102 605h3v1h-3zM1108 605h3v1h-3zM1114 605h3v1h-3zM1120 605h3v1h-3zM1126 605h3v1h-3zM1132 605h3v1h-3zM1138 605h3v1h-3zM1144 605h3v1h-3zM1150 605h3v1h-3zM1156 605h3v1h-3zM1162 605h3v1h-3zM1168 605h3v1h-3zM1174 605h3v1h-3zM1180 605h3v1h-3zM1186 605h3v1h-3zM1192 605h3v1h-3zM1198 605h3v1h-3zM1204 605h3v1h-3zM1210 605h3v1h-3zM1216 605h3v1h-3zM1222 605h3v1h-3zM1228 605h3v1h-3zM1234 605h3v1h-3zM1240 605h3v1h-3zM1246 605h3v1h-3zM1252 605h3v1h-3zM1258 605h3v1h-3zM1264 605h3v1h-3zM1270 605h3v1h-3zM1276 605h3v1h-3zM1282 605h3v1h-3zM1288 605h3v1h-3zM1294 605h3v1h-3zM1300 605h3v1h-3zM1306 605h3v1h-3zM1312 605h3v1h-3zM1318 605h3v1h-3zM1324 605h3v1h-3zM1330 605h3v1h-3zM1336 605h3v1h-3zM1342 605h3v1h-3zM1348 605h3v1h-3zM1354 605h3v1h-3zM1360 605h3v1h-3zM1366 605h3v1h-3zM1372 605h3v1h-3zM1378 605h3v1h-3zM1384 605h3v1h-3zM1390 605h3v1h-3zM1396 605h3v1h-3zM1402 605h3v1h-3zM1408 605h3v1h-3zM1414 605h3v1h-3zM1420 605h3v1h-3zM1426 605h3v1h-3zM1432 605h3v1h-3zM1438 605h3v1h-3zM1444 605h3v1h-3zM1450 605h3v1h-3zM1456 605h3v1h-3zM1462 605h3v1h-3zM1468 605h3v1h-3zM1474 605h3v1h-3zM1480 605h3v1h-3zM1486 605h3v1h-3zM1492 605h3v1h-3zM1498 605h3v1h-3zM1504 605h3v1h-3zM1510 605h3v1h-3zM1516 605h3v1h-3zM1522 605h3v1h-3zM1528 605h3v1h-3zM1534 605h3v1h-3zM1540 605h3v1h-3zM1546 605h3v1h-3zM1552 605h3v1h-3zM1558 605h3v1h-3zM1564 605h3v1h-3zM1570 605h3v1h-3zM1576 605h3v1h-3zM1582 605h3v1h-3zM1588 605h3v1h-3zM1594 605h1v1h-1z"/>
</g>
<path class="c" fill="#1e90ff" d="M19 553h2v1h-2zM17 554h2v1h-2zM21 554h3v1h-3zM48 554h4v1h-4zM15 555h2v1h-2zM24 555h2v1h-2zM32 555h16v1h-16zM52 555h2v1h-2zM13 556h2v1h-2zM26 556h6v1h-6zM54 556h1v1h-1zM3 557h10v1h-10zM55 557h1v1h-1zM56 558h2v1h-2zM58 559h1v1h-1zM83 559h1v1h-1zM59 560h1v1h-1zM82 560h1v1h-1zM84 560h2v1h-2zM60 561h2v1h-2zM80 561h2v1h-2zM86 561h1v1h-1zM907 561h2v1h-2zM62 562h1v1h-1zM79 562h1v1h-1zM87 562h1v1h-1zM905 562h2v1h-2zM909 562h3v1h-3zM63 563h1v1h-1zM78 563h1v1h-1zM88 563h2v1h-2zM903 563h2v1h-2zM912 563h2v1h-2zM64 564h2v1h-2zM76 564h2v1h-2zM90 564h1v1h-1zM901 564h2v1h-2zM914 564h6v1h-6zM1002 564h4v1h-4zM66 565h1v1h-1zM72 565h4v1h-4zM91 565h1v1h-1zM171 565h2v1h-2zM898 565h3v1h-3zM920 565h8v1h-8zM1000 565h2v1h-2zM1006 565h4v1h-4zM1016 565h4v1h-4zM67 566h5v1h-5zM92 566h1v1h-1zM169 566h2v1h-2zM173 566h2v1h-2zM896 566h2v1h-2zM928 566h5v1h-5zM997 566h3v1h-3zM1010 566h6v1h-6zM1020 566h2v1h-2zM1083 566h1v1h-1zM93 567h1v1h-1zM167 567h2v1h-2zM175 567h2v1h-2zM893 567h3v1h-3zM933 567h3v1h-3zM994 567h3v1h-3zM1022 567h1v1h-1zM1081 567h2v1h-2zM1084 567h1v1h-1zM94 568h1v1h-1zM165 568h2v1h-2zM177 568h2v1h-2zM891 568h2v1h-2zM936 568h2v1h-2zM992 568h2v1h-2zM1023 568h1v1h-1zM1079 568h2v1h-2zM1085 568h1v2h-1zM162 569h3v1h-3zM179 569h1v1h-1zM889 569h2v1h-2zM938 569h3v1h-3zM989 569h3v1h-3zM1024 569h2v1h-2zM1077 569h2v1h-2zM95 569h1v2h-1zM158 570h4v1h-4zM180 570h2v1h-2zM888 570h1v1h-1zM941 570h2v1h-2zM954 570h3v1h-3zM986 570h3v1h-3zM1026 570h1v1h-1zM1074 570h3v1h-3zM1086 570h1v1h-1zM96 571h1v1h-1zM144 571h14v1h-14zM182 571h1v1h-1zM259 571h9v1h-9zM886 571h2v1h-2zM943 571h2v1h-2zM952 571h2v1h-2zM957 571h2v1h-2zM982 571h4v1h-4zM1027 571h1v1h-1zM1072 571h2v1h-2zM1087 571h1v1h-1zM97 572h1v1h-1zM138 572h6v1h-6zM183 572h1v1h-1zM257 572h2v1h-2zM884 572h2v1h-2zM945 572h2v1h-2zM949 572h3v1h-3zM959 572h2v1h-2zM976 572h6v1h-6zM1028 572h2v1h-2zM1069 572h3v1h-3zM1088 572h1v1h-1zM268 572h1v2h-1zM98 573h1v1h-1zM134 573h4v1h-4zM184 573h2v1h-2zM255 573h2v1h-2zM880 573h4v1h-4zM947 573h2v1h-2zM961 573h2v1h-2zM968 573h8v1h-8zM1030 573h2v1h-2zM1066 573h3v1h-3zM1120 573h5v1h-5zM1089 573h1v2h-1zM99 574h10v1h-10zM130 574h4v1h-4zM186 574h1v1h-1zM243 574h5v1h-5zM253 574h2v1h-2zM872 574h8v1h-8zM963 574h5v1h-5zM1032 574h1v1h-1zM1064 574h2v1h-2zM1107 574h13v1h-13zM1125 574h2v1h-2zM269 574h1v2h-1zM109 575h3v1h-3zM126 575h4v1h-4zM187 575h1v1h-1zM242 575h1v1h-1zM248 575h5v1h-5zM866 575h6v1h-6zM1033 575h2v1h-2zM1040 575h8v1h-8zM1061 575h3v1h-3zM1090 575h1v1h-1zM1105 575h2v1h-2zM1127 575h2v1h-2zM112 576h2v1h-2zM120 576h6v1h-6zM188 576h1v1h-1zM240 576h2v1h-2zM270 576h1v1h-1zM611 576h1v1h-1zM864 576h2v1h-2zM1035 576h5v1h-5zM1048 576h13v1h-13zM1091 576h2v1h-2zM1104 576h1v1h-1zM1129 576h2v1h-2zM114 577h6v1h-6zM189 577h1v1h-1zM239 577h1v1h-1zM609 577h2v1h-2zM612 577h2v1h-2zM728 577h4v1h-4zM861 577h3v1h-3zM1093 577h3v1h-3zM1102 577h2v1h-2zM1131 577h9v1h-9zM271 577h1v2h-1zM190 578h1v1h-1zM238 578h1v1h-1zM607 578h2v1h-2zM614 578h1v1h-1zM722 578h6v1h-6zM732 578h2v1h-2zM851 578h10v1h-10zM1096 578h2v1h-2zM1100 578h2v1h-2zM1140 578h2v1h-2zM236 579h2v1h-2zM272 579h1v1h-1zM605 579h2v1h-2zM615 579h1v1h-1zM632 579h4v1h-4zM720 579h2v1h-2zM734 579h2v1h-2zM794 579h11v1h-11zM849 579h2v1h-2zM1098 579h2v1h-2zM1142 579h1v1h-1zM191 579h1v2h-1zM232 580h4v1h-4zM531 580h10v1h-10zM603 580h2v1h-2zM616 580h2v1h-2zM626 580h6v1h-6zM636 580h2v1h-2zM717 580h3v1h-3zM736 580h1v1h-1zM792 580h2v1h-2zM805 580h2v1h-2zM847 580h2v1h-2zM1143 580h1v1h-1zM273 580h1v2h-1zM192 581h1v1h-1zM216 581h16v1h-16zM331 581h1v1h-1zM530 581h1v1h-1zM541 581h3v1h-3zM601 581h2v1h-2zM618 581h1v1h-1zM622 581h4v1h-4zM638 581h2v1h-2zM715 581h2v1h-2zM737 581h2v1h-2zM789 581h3v1h-3zM807 581h2v1h-2zM824 581h4v1h-4zM845 581h2v1h-2zM1144 581h2v1h-2zM193 582h1v1h-1zM208 582h8v1h-8zM330 582h1v1h-1zM332 582h2v1h-2zM355 582h2v1h-2zM529 582h1v1h-1zM544 582h2v1h-2zM599 582h2v1h-2zM619 582h3v1h-3zM640 582h1v1h-1zM650 582h2v1h-2zM714 582h1v1h-1zM739 582h5v1h-5zM776 582h13v1h-13zM809 582h2v1h-2zM816 582h8v1h-8zM828 582h2v1h-2zM843 582h2v1h-2zM1146 582h1v1h-1zM274 582h1v2h-1zM194 583h1v1h-1zM200 583h8v1h-8zM298 583h3v1h-3zM328 583h2v1h-2zM334 583h2v1h-2zM353 583h2v1h-2zM357 583h3v1h-3zM528 583h1v1h-1zM546 583h2v1h-2zM597 583h2v1h-2zM641 583h2v1h-2zM646 583h4v1h-4zM652 583h1v1h-1zM744 583h4v1h-4zM768 583h8v1h-8zM811 583h5v1h-5zM830 583h2v1h-2zM841 583h2v1h-2zM1147 583h1v1h-1zM713 583h1v2h-1zM195 584h5v1h-5zM275 584h5v1h-5zM296 584h2v1h-2zM301 584h2v1h-2zM327 584h1v1h-1zM336 584h1v1h-1zM351 584h2v1h-2zM360 584h2v1h-2zM386 584h10v1h-10zM499 584h11v1h-11zM526 584h2v1h-2zM548 584h1v1h-1zM595 584h2v1h-2zM643 584h3v1h-3zM653 584h1v1h-1zM748 584h2v1h-2zM763 584h5v1h-5zM832 584h1v1h-1zM839 584h2v1h-2zM1148 584h1v1h-1zM280 585h8v1h-8zM293 585h3v1h-3zM303 585h2v1h-2zM326 585h1v1h-1zM337 585h2v1h-2zM349 585h2v1h-2zM362 585h6v1h-6zM384 585h2v1h-2zM498 585h1v1h-1zM510 585h4v1h-4zM525 585h1v1h-1zM549 585h1v1h-1zM594 585h1v1h-1zM654 585h1v1h-1zM712 585h1v1h-1zM750 585h2v1h-2zM761 585h2v1h-2zM833 585h2v1h-2zM837 585h2v1h-2zM1149 585h1v1h-1zM1234 585h10v1h-10zM396 585h1v2h-1zM288 586h5v1h-5zM305 586h2v1h-2zM324 586h2v1h-2zM339 586h10v1h-10zM368 586h8v1h-8zM381 586h3v1h-3zM497 586h1v1h-1zM514 586h6v1h-6zM524 586h1v1h-1zM550 586h2v1h-2zM593 586h1v1h-1zM655 586h1v1h-1zM711 586h1v1h-1zM752 586h1v1h-1zM759 586h2v1h-2zM835 586h2v1h-2zM1150 586h1v1h-1zM1230 586h4v1h-4zM1244 586h2v1h-2zM307 587h2v1h-2zM322 587h2v1h-2zM376 587h5v1h-5zM397 587h1v1h-1zM496 587h1v1h-1zM520 587h4v1h-4zM552 587h1v1h-1zM592 587h1v1h-1zM656 587h1v1h-1zM710 587h1v1h-1zM753 587h2v1h-2zM757 587h2v1h-2zM1151 587h1v1h-1zM1227 587h3v1h-3zM1246 587h2v1h-2zM309 588h3v1h-3zM320 588h2v1h-2zM474 588h3v1h-3zM494 588h2v1h-2zM553 588h1v1h-1zM562 588h2v1h-2zM590 588h2v1h-2zM657 588h1v1h-1zM755 588h2v1h-2zM1152 588h1v1h-1zM1226 588h1v1h-1zM1248 588h1v1h-1zM1258 588h1v1h-1zM398 588h1v2h-1zM709 588h1v2h-1zM312 589h2v1h-2zM317 589h3v1h-3zM472 589h2v1h-2zM477 589h2v1h-2zM493 589h1v1h-1zM554 589h1v1h-1zM558 589h4v1h-4zM564 589h2v1h-2zM589 589h1v1h-1zM658 589h1v1h-1zM699 589h3v1h-3zM1153 589h1v1h-1zM1224 589h2v1h-2zM1249 589h2v1h-2zM1254 589h4v1h-4zM314 590h3v1h-3zM399 590h1v1h-1zM469 590h3v1h-3zM479 590h2v1h-2zM492 590h1v1h-1zM555 590h3v1h-3zM566 590h2v1h-2zM588 590h1v1h-1zM659 590h1v1h-1zM698 590h1v1h-1zM702 590h4v1h-4zM708 590h1v1h-1zM1154 590h1v1h-1zM1160 590h13v1h-13zM1223 590h1v1h-1zM1251 590h3v1h-3zM459 591h10v1h-10zM481 591h2v1h-2zM488 591h4v1h-4zM568 591h1v1h-1zM584 591h4v1h-4zM660 591h1v1h-1zM706 591h2v1h-2zM1155 591h5v1h-5zM1173 591h3v1h-3zM1211 591h3v1h-3zM1222 591h1v1h-1zM400 591h1v2h-1zM697 591h1v2h-1zM458 592h1v1h-1zM483 592h5v1h-5zM569 592h2v1h-2zM576 592h8v1h-8zM661 592h1v1h-1zM1176 592h2v1h-2zM1210 592h1v1h-1zM1214 592h4v1h-4zM1220 592h2v1h-2zM401 593h1v1h-1zM457 593h1v1h-1zM571 593h5v1h-5zM662 593h2v1h-2zM696 593h1v1h-1zM1178 593h3v1h-3zM1209 593h1v1h-1zM1218 593h2v1h-2zM456 594h1v1h-1zM664 594h1v1h-1zM695 594h1v1h-1zM1181 594h2v1h-2zM1208 594h1v1h-1zM402 594h1v2h-1zM454 595h2v1h-2zM665 595h1v1h-1zM694 595h1v1h-1zM1183 595h2v1h-2zM1207 595h1v1h-1zM403 596h3v1h-3zM453 596h1v1h-1zM666 596h1v1h-1zM1185 596h2v1h-2zM1206 596h1v1h-1zM693 596h1v2h-1zM406 597h4v1h-4zM452 597h1v1h-1zM667 597h5v1h-5zM1187 597h3v1h-3zM1205 597h1v1h-1zM410 598h4v1h-4zM451 598h1v1h-1zM672 598h8v1h-8zM692 598h1v1h-1zM1190 598h4v1h-4zM1204 598h1v1h-1zM414 599h4v1h-4zM450 599h1v1h-1zM680 599h12v1h-12zM1194 599h10v1h-10zM418 600h6v1h-6zM448 600h2v1h-2zM424 601h5v1h-5zM447 601h1v1h-1zM429 602h3v1h-3zM446 602h1v1h-1zM432 603h2v1h-2zM444 603h2v1h-2zM434 604h10v1h-10z"/>
<text transform="translate(7 553) scale(1 1.032)" style="font-size:9.4px;">RSI(14) 48.5989</text>
<text transform="translate(1599.5 550.5) scale(1 1.060)" style="font-size:9.15px;">100</text>
<text transform="translate(1598.3 572.5) scale(1 1.060)" style="font-size:9.15px;">70</text>
<text transform="translate(1598.3 608.5) scale(1 1.060)" style="font-size:9.15px;">30</text>
<text transform="translate(1599.5 629.5) scale(1 1.060)" style="font-size:9.15px;">0</text>
<g class="c">
<rect x="3" y="661" width="1" height="43" fill="#c0c0c0"/>
<rect x="11" y="659" width="1" height="45" fill="#c0c0c0"/>
<rect x="19" y="653" width="1" height="51" fill="#c0c0c0"/>
<rect x="27" y="650" width="1" height="54" fill="#c0c0c0"/>
<rect x="35" y="648" width="1" height="56" fill="#c0c0c0"/>
<rect x="43" y="644" width="1" height="60" fill="#c0c0c0"/>
<rect x="51" y="642" width="1" height="62" fill="#c0c0c0"/>
<rect x="59" y="640" width="1" height="64" fill="#c0c0c0"/>
<rect x="67" y="642" width="1" height="62" fill="#c0c0c0"/>
<rect x="75" y="643" width="1" height="61" fill="#c0c0c0"/>
<rect x="83" y="640" width="1" height="64" fill="#c0c0c0"/>
<rect x="91" y="642" width="1" height="62" fill="#c0c0c0"/>
<rect x="99" y="647" width="1" height="57" fill="#c0c0c0"/>
<rect x="107" y="650" width="1" height="54" fill="#c0c0c0"/>
<rect x="115" y="654" width="1" height="50" fill="#c0c0c0"/>
<rect x="123" y="657" width="1" height="47" fill="#c0c0c0"/>
<rect x="131" y="659" width="1" height="45" fill="#c0c0c0"/>
<rect x="139" y="661" width="1" height="43" fill="#c0c0c0"/>
<rect x="147" y="662" width="1" height="42" fill="#c0c0c0"/>
<rect x="155" y="663" width="1" height="41" fill="#c0c0c0"/>
<rect x="163" y="663" width="1" height="41" fill="#c0c0c0"/>
<rect x="171" y="661" width="1" height="43" fill="#c0c0c0"/>
<rect x="179" y="662" width="1" height="42" fill="#c0c0c0"/>
<rect x="187" y="664" width="1" height="40" fill="#c0c0c0"/>
<rect x="195" y="669" width="1" height="35" fill="#c0c0c0"/>
<rect x="203" y="673" width="1" height="31" fill="#c0c0c0"/>
<rect x="211" y="676" width="1" height="28" fill="#c0c0c0"/>
<rect x="219" y="678" width="1" height="26" fill="#c0c0c0"/>
<rect x="227" y="680" width="1" height="24" fill="#c0c0c0"/>
<rect x="235" y="682" width="1" height="22" fill="#c0c0c0"/>
<rect x="243" y="680" width="1" height="24" fill="#c0c0c0"/>
<rect x="251" y="680" width="1" height="24" fill="#c0c0c0"/>
<rect x="259" y="678" width="1" height="26" fill="#c0c0c0"/>
<rect x="267" y="677" width="1" height="27" fill="#c0c0c0"/>
<rect x="275" y="680" width="1" height="24" fill="#c0c0c0"/>
<rect x="283" y="683" width="1" height="21" fill="#c0c0c0"/>
<rect x="291" y="686" width="1" height="18" fill="#c0c0c0"/>
<rect x="299" y="687" width="1" height="17" fill="#c0c0c0"/>
<rect x="307" y="690" width="1" height="14" fill="#c0c0c0"/>
<rect x="315" y="693" width="1" height="11" fill="#c0c0c0"/>
<rect x="323" y="695" width="1" height="9" fill="#c0c0c0"/>
<rect x="331" y="694" width="1" height="10" fill="#c0c0c0"/>
<rect x="339" y="695" width="1" height="9" fill="#c0c0c0"/>
<rect x="347" y="696" width="1" height="8" fill="#c0c0c0"/>
<rect x="355" y="695" width="1" height="9" fill="#c0c0c0"/>
<rect x="363" y="696" width="1" height="8" fill="#c0c0c0"/>
<rect x="371" y="697" width="1" height="7" fill="#c0c0c0"/>
<rect x="379" y="698" width="1" height="6" fill="#c0c0c0"/>
<rect x="387" y="698" width="1" height="6" fill="#c0c0c0"/>
<rect x="395" y="698" width="1" height="6" fill="#c0c0c0"/>
<rect x="403" y="702" width="1" height="2" fill="#c0c0c0"/>
<rect x="411" y="703" width="1" height="3" fill="#c0c0c0"/>
<rect x="419" y="703" width="1" height="6" fill="#c0c0c0"/>
<rect x="427" y="703" width="1" height="11" fill="#c0c0c0"/>
<rect x="435" y="703" width="1" height="15" fill="#c0c0c0"/>
<rect x="443" y="703" width="1" height="19" fill="#c0c0c0"/>
<rect x="451" y="703" width="1" height="20" fill="#c0c0c0"/>
<rect x="459" y="703" width="1" height="18" fill="#c0c0c0"/>
<rect x="467" y="703" width="1" height="16" fill="#c0c0c0"/>
<rect x="475" y="703" width="1" height="15" fill="#c0c0c0"/>
<rect x="483" y="703" width="1" height="15" fill="#c0c0c0"/>
<rect x="491" y="703" width="1" height="13" fill="#c0c0c0"/>
<rect x="499" y="703" width="1" height="9" fill="#c0c0c0"/>
<rect x="507" y="703" width="1" height="7" fill="#c0c0c0"/>
<rect x="515" y="703" width="1" height="6" fill="#c0c0c0"/>
<rect x="523" y="703" width="1" height="5" fill="#c0c0c0"/>
<rect x="531" y="703" width="1" height="2" fill="#c0c0c0"/>
<rect x="539" y="703" width="1" height="1" fill="#c0c0c0"/>
<rect x="547" y="702" width="1" height="2" fill="#c0c0c0"/>
<rect x="555" y="703" width="1" height="1" fill="#c0c0c0"/>
<rect x="563" y="703" width="1" height="1" fill="#c0c0c0"/>
<rect x="571" y="703" width="1" height="2" fill="#c0c0c0"/>
<rect x="579" y="703" width="1" height="3" fill="#c0c0c0"/>
<rect x="587" y="703" width="1" height="4" fill="#c0c0c0"/>
<rect x="595" y="703" width="1" height="2" fill="#c0c0c0"/>
<rect x="603" y="703" width="1" height="1" fill="#c0c0c0"/>
<rect x="611" y="699" width="1" height="5" fill="#c0c0c0"/>
<rect x="619" y="698" width="1" height="6" fill="#c0c0c0"/>
<rect x="627" y="696" width="1" height="8" fill="#c0c0c0"/>
<rect x="635" y="694" width="1" height="10" fill="#c0c0c0"/>
<rect x="643" y="695" width="1" height="9" fill="#c0c0c0"/>
<rect x="651" y="694" width="1" height="10" fill="#c0c0c0"/>
<rect x="659" y="698" width="1" height="6" fill="#c0c0c0"/>
<rect x="667" y="703" width="1" height="1" fill="#c0c0c0"/>
<rect x="675" y="703" width="1" height="4" fill="#c0c0c0"/>
<rect x="683" y="703" width="1" height="8" fill="#c0c0c0"/>
<rect x="691" y="703" width="1" height="11" fill="#c0c0c0"/>
<rect x="699" y="703" width="1" height="9" fill="#c0c0c0"/>
<rect x="707" y="703" width="1" height="10" fill="#c0c0c0"/>
<rect x="715" y="703" width="1" height="5" fill="#c0c0c0"/>
<rect x="723" y="703" width="1" height="1" fill="#c0c0c0"/>
<rect x="731" y="699" width="1" height="5" fill="#c0c0c0"/>
<rect x="739" y="698" width="1" height="6" fill="#c0c0c0"/>
<rect x="747" y="697" width="1" height="7" fill="#c0c0c0"/>
<rect x="755" y="699" width="1" height="5" fill="#c0c0c0"/>
<rect x="763" y="698" width="1" height="6" fill="#c0c0c0"/>
<rect x="771" y="698" width="1" height="6" fill="#c0c0c0"/>
<rect x="779" y="698" width="1" height="6" fill="#c0c0c0"/>
<rect x="787" y="696" width="1" height="8" fill="#c0c0c0"/>
<rect x="795" y="694" width="1" height="10" fill="#c0c0c0"/>
<rect x="803" y="692" width="1" height="12" fill="#c0c0c0"/>
<rect x="811" y="693" width="1" height="11" fill="#c0c0c0"/>
<rect x="819" y="694" width="1" height="10" fill="#c0c0c0"/>
<rect x="827" y="692" width="1" height="12" fill="#c0c0c0"/>
<rect x="835" y="694" width="1" height="10" fill="#c0c0c0"/>
<rect x="843" y="693" width="1" height="11" fill="#c0c0c0"/>
<rect x="851" y="692" width="1" height="12" fill="#c0c0c0"/>
<rect x="859" y="690" width="1" height="14" fill="#c0c0c0"/>
<rect x="867" y="688" width="1" height="16" fill="#c0c0c0"/>
<rect x="875" y="686" width="1" height="18" fill="#c0c0c0"/>
<rect x="883" y="685" width="1" height="19" fill="#c0c0c0"/>
<rect x="891" y="681" width="1" height="23" fill="#c0c0c0"/>
<rect x="899" y="677" width="1" height="27" fill="#c0c0c0"/>
<rect x="907" y="671" width="1" height="33" fill="#c0c0c0"/>
<rect x="915" y="667" width="1" height="37" fill="#c0c0c0"/>
<rect x="923" y="665" width="1" height="39" fill="#c0c0c0"/>
<rect x="931" y="664" width="1" height="40" fill="#c0c0c0"/>
<rect x="939" y="664" width="1" height="40" fill="#c0c0c0"/>
<rect x="947" y="666" width="1" height="38" fill="#c0c0c0"/>
<rect x="955" y="666" width="1" height="38" fill="#c0c0c0"/>
<rect x="963" y="667" width="1" height="37" fill="#c0c0c0"/>
<rect x="971" y="668" width="1" height="36" fill="#c0c0c0"/>
<rect x="979" y="668" width="1" height="36" fill="#c0c0c0"/>
<rect x="987" y="668" width="1" height="36" fill="#c0c0c0"/>
<rect x="995" y="668" width="1" height="36" fill="#c0c0c0"/>
<rect x="1003" y="666" width="1" height="38" fill="#c0c0c0"/>
<rect x="1011" y="665" width="1" height="39" fill="#c0c0c0"/>
<rect x="1019" y="665" width="1" height="39" fill="#c0c0c0"/>
<rect x="1027" y="666" width="1" height="38" fill="#c0c0c0"/>
<rect x="1035" y="668" width="1" height="36" fill="#c0c0c0"/>
<rect x="1043" y="670" width="1" height="34" fill="#c0c0c0"/>
<rect x="1051" y="672" width="1" height="32" fill="#c0c0c0"/>
<rect x="1059" y="675" width="1" height="29" fill="#c0c0c0"/>
<rect x="1067" y="675" width="1" height="29" fill="#c0c0c0"/>
<rect x="1075" y="675" width="1" height="29" fill="#c0c0c0"/>
<rect x="1083" y="673" width="1" height="31" fill="#c0c0c0"/>
<rect x="1091" y="674" width="1" height="30" fill="#c0c0c0"/>
<rect x="1099" y="676" width="1" height="28" fill="#c0c0c0"/>
<rect x="1107" y="676" width="1" height="28" fill="#c0c0c0"/>
<rect x="1115" y="676" width="1" height="28" fill="#c0c0c0"/>
<rect x="1123" y="676" width="1" height="28" fill="#c0c0c0"/>
<rect x="1131" y="678" width="1" height="26" fill="#c0c0c0"/>
<rect x="1139" y="679" width="1" height="25" fill="#c0c0c0"/>
<rect x="1147" y="682" width="1" height="22" fill="#c0c0c0"/>
<rect x="1155" y="687" width="1" height="17" fill="#c0c0c0"/>
<rect x="1163" y="691" width="1" height="13" fill="#c0c0c0"/>
<rect x="1171" y="694" width="1" height="10" fill="#c0c0c0"/>
<rect x="1179" y="697" width="1" height="7" fill="#c0c0c0"/>
<rect x="1187" y="701" width="1" height="3" fill="#c0c0c0"/>
<rect x="1195" y="703" width="1" height="1" fill="#c0c0c0"/>
<rect x="1203" y="703" width="1" height="4" fill="#c0c0c0"/>
<rect x="1211" y="703" width="1" height="5" fill="#c0c0c0"/>
<rect x="1219" y="703" width="1" height="6" fill="#c0c0c0"/>
<rect x="1227" y="703" width="1" height="5" fill="#c0c0c0"/>
<rect x="1235" y="703" width="1" height="3" fill="#c0c0c0"/>
<rect x="1243" y="703" width="1" height="2" fill="#c0c0c0"/>
<rect x="1251" y="703" width="1" height="3" fill="#c0c0c0"/>
<rect x="1259" y="703" width="1" height="4" fill="#c0c0c0"/>
</g>
<path class="c" fill="#ff0000" d="M88 644h2v1h-2zM93 644h3v1h-3zM99 644h3v1h-3zM105 644h3v1h-3zM111 644h1v1h-1zM81 645h3v1h-3zM87 645h1v1h-1zM112 645h2v1h-2zM117 645h3v1h-3zM75 646h3v1h-3zM123 646h3v1h-3zM70 647h2v1h-2zM129 647h1v1h-1zM69 648h1v1h-1zM130 648h2v1h-2zM63 649h3v1h-3zM135 649h3v1h-3zM58 650h2v1h-2zM141 650h1v1h-1zM57 651h1v1h-1zM142 651h2v1h-2zM53 652h1v1h-1zM147 652h3v1h-3zM51 653h2v1h-2zM153 653h1v1h-1zM154 654h2v1h-2zM45 655h3v1h-3zM159 655h3v1h-3zM165 656h1v1h-1zM41 657h1v1h-1zM166 657h2v1h-2zM39 658h2v1h-2zM171 658h3v1h-3zM177 659h3v1h-3zM34 660h2v1h-2zM183 660h3v1h-3zM33 661h1v1h-1zM189 661h3v1h-3zM29 662h1v1h-1zM195 662h3v1h-3zM27 663h2v1h-2zM201 663h3v1h-3zM207 664h3v1h-3zM21 665h3v1h-3zM213 665h1v1h-1zM969 665h3v1h-3zM975 665h3v1h-3zM981 665h3v1h-3zM987 665h3v1h-3zM214 666h2v1h-2zM963 666h3v1h-3zM993 666h3v1h-3zM999 666h3v1h-3zM1005 666h3v1h-3zM1011 666h3v1h-3zM1017 666h3v1h-3zM1023 666h3v1h-3zM1029 666h3v1h-3zM1035 666h3v1h-3zM1041 666h3v1h-3zM1047 666h1v1h-1zM16 667h2v1h-2zM219 667h3v1h-3zM957 667h3v1h-3zM1048 667h2v1h-2zM1053 667h3v1h-3zM1059 667h3v1h-3zM15 668h1v1h-1zM225 668h1v1h-1zM951 668h3v1h-3zM1065 668h3v1h-3zM1071 668h1v1h-1zM11 669h1v1h-1zM226 669h2v1h-2zM946 669h2v1h-2zM1072 669h2v1h-2zM1077 669h3v1h-3zM9 670h2v1h-2zM231 670h3v1h-3zM945 670h1v1h-1zM1083 670h3v1h-3zM237 671h1v1h-1zM941 671h1v1h-1zM1089 671h3v1h-3zM1095 671h1v1h-1zM5 672h1v1h-1zM238 672h2v1h-2zM939 672h2v1h-2zM1096 672h2v1h-2zM1101 672h3v1h-3zM3 673h2v1h-2zM243 673h3v1h-3zM1107 673h3v1h-3zM249 674h1v1h-1zM933 674h3v1h-3zM1113 674h3v1h-3zM1119 674h3v1h-3zM1125 674h3v1h-3zM250 675h2v1h-2zM255 675h1v1h-1zM1131 675h3v1h-3zM1137 675h3v1h-3zM1143 675h1v1h-1zM256 676h2v1h-2zM261 676h3v1h-3zM928 676h2v1h-2zM1144 676h2v1h-2zM1149 676h3v1h-3zM267 677h3v1h-3zM927 677h1v1h-1zM1155 677h3v1h-3zM273 678h3v1h-3zM279 678h1v1h-1zM922 678h2v1h-2zM1161 678h1v1h-1zM280 679h2v1h-2zM285 679h3v1h-3zM921 679h1v1h-1zM1162 679h2v1h-2zM291 680h3v1h-3zM297 680h3v1h-3zM917 680h1v1h-1zM1167 680h3v1h-3zM303 681h3v1h-3zM915 681h2v1h-2zM1173 681h1v1h-1zM309 682h3v1h-3zM910 682h2v1h-2zM1174 682h2v1h-2zM315 683h3v1h-3zM909 683h1v1h-1zM1179 683h2v1h-2zM321 684h3v1h-3zM904 684h2v1h-2zM1181 684h1v1h-1zM327 685h3v1h-3zM903 685h1v1h-1zM1185 685h1v1h-1zM333 686h1v1h-1zM898 686h2v1h-2zM1186 686h2v1h-2zM334 687h2v1h-2zM897 687h1v1h-1zM339 688h3v1h-3zM891 688h3v1h-3zM1191 688h2v1h-2zM345 689h3v1h-3zM880 689h2v1h-2zM885 689h3v1h-3zM1193 689h1v1h-1zM351 690h3v1h-3zM873 690h3v1h-3zM879 690h1v1h-1zM357 691h3v1h-3zM867 691h3v1h-3zM1197 691h2v1h-2zM363 692h3v1h-3zM849 692h3v1h-3zM855 692h3v1h-3zM861 692h3v1h-3zM1199 692h1v1h-1zM369 693h3v1h-3zM375 693h1v1h-1zM825 693h3v1h-3zM831 693h3v1h-3zM837 693h3v1h-3zM843 693h3v1h-3zM376 694h2v1h-2zM381 694h3v1h-3zM819 694h3v1h-3zM1203 694h2v1h-2zM387 695h3v1h-3zM393 695h3v1h-3zM399 695h1v1h-1zM801 695h3v1h-3zM807 695h3v1h-3zM813 695h3v1h-3zM1205 695h1v1h-1zM400 696h2v1h-2zM405 696h3v1h-3zM795 696h3v1h-3zM1209 696h1v1h-1zM411 697h3v1h-3zM657 697h3v1h-3zM663 697h3v1h-3zM669 697h3v1h-3zM675 697h3v1h-3zM789 697h3v1h-3zM1210 697h2v1h-2zM417 698h1v1h-1zM651 698h3v1h-3zM681 698h1v1h-1zM783 698h3v1h-3zM1215 698h3v1h-3zM418 699h2v1h-2zM646 699h2v1h-2zM682 699h2v1h-2zM778 699h2v1h-2zM423 700h3v1h-3zM640 700h2v1h-2zM645 700h1v1h-1zM687 700h3v1h-3zM777 700h1v1h-1zM1221 700h3v1h-3zM633 701h3v1h-3zM639 701h1v1h-1zM693 701h1v1h-1zM771 701h3v1h-3zM429 702h3v1h-3zM627 702h3v1h-3zM694 702h2v1h-2zM766 702h2v1h-2zM1227 702h3v1h-3zM609 703h3v1h-3zM615 703h3v1h-3zM621 703h3v1h-3zM699 703h3v1h-3zM760 703h2v1h-2zM765 703h1v1h-1zM1233 703h3v1h-3zM1239 703h1v1h-1zM435 704h2v1h-2zM579 704h3v1h-3zM585 704h3v1h-3zM591 704h3v1h-3zM597 704h3v1h-3zM603 704h3v1h-3zM705 704h3v1h-3zM754 704h2v1h-2zM759 704h1v1h-1zM1240 704h2v1h-2zM1245 704h1v1h-1zM437 705h1v1h-1zM568 705h2v1h-2zM573 705h3v1h-3zM711 705h3v1h-3zM753 705h1v1h-1zM1246 705h2v1h-2zM561 706h3v1h-3zM567 706h1v1h-1zM717 706h3v1h-3zM747 706h3v1h-3zM1251 706h3v1h-3zM441 707h2v1h-2zM555 707h3v1h-3zM723 707h3v1h-3zM736 707h2v1h-2zM741 707h3v1h-3zM1257 707h2v1h-2zM443 708h1v1h-1zM549 708h3v1h-3zM729 708h3v1h-3zM735 708h1v1h-1zM447 709h1v1h-1zM544 709h2v1h-2zM448 710h2v1h-2zM543 710h1v1h-1zM453 711h1v1h-1zM538 711h2v1h-2zM454 712h2v1h-2zM537 712h1v1h-1zM459 713h2v1h-2zM531 713h3v1h-3zM461 714h1v1h-1zM525 714h3v1h-3zM465 715h1v1h-1zM520 715h2v1h-2zM466 716h2v1h-2zM471 716h1v1h-1zM519 716h1v1h-1zM472 717h2v1h-2zM477 717h3v1h-3zM513 717h3v1h-3zM483 718h3v1h-3zM507 718h3v1h-3zM489 719h3v1h-3zM495 719h3v1h-3zM501 719h3v1h-3z"/>
<text transform="translate(7 648) scale(1 1.032)" style="font-size:9.4px;">MACD(12,26,9) -0.000722 -0.000879</text>
<text transform="translate(1599.2 645.5) scale(1 1.060)" style="font-size:9.15px;">0.014384</text>
<text transform="translate(1599.2 706.6) scale(1 1.060)" style="font-size:9.15px;">0.00</text>
<text transform="translate(1599.2 724.7) scale(1 1.060)" style="font-size:9.15px;">-0.005396</text>
<g class="c">
<rect x="3" y="729" width="1" height="3" fill="#000"/>
<rect x="67" y="729" width="1" height="3" fill="#000"/>
<rect x="131" y="729" width="1" height="3" fill="#000"/>
<rect x="195" y="729" width="1" height="3" fill="#000"/>
<rect x="259" y="729" width="1" height="3" fill="#000"/>
<rect x="323" y="729" width="1" height="3" fill="#000"/>
<rect x="387" y="729" width="1" height="3" fill="#000"/>
<rect x="451" y="729" width="1" height="3" fill="#000"/>
<rect x="515" y="729" width="1" height="3" fill="#000"/>
<rect x="579" y="729" width="1" height="3" fill="#000"/>
<rect x="643" y="729" width="1" height="3" fill="#000"/>
<rect x="707" y="729" width="1" height="3" fill="#000"/>
<rect x="771" y="729" width="1" height="3" fill="#000"/>
<rect x="835" y="729" width="1" height="3" fill="#000"/>
<rect x="899" y="729" width="1" height="3" fill="#000"/>
<rect x="963" y="729" width="1" height="3" fill="#000"/>
<rect x="1027" y="729" width="1" height="3" fill="#000"/>
<rect x="1091" y="729" width="1" height="3" fill="#000"/>
<rect x="1155" y="729" width="1" height="3" fill="#000"/>
<rect x="1219" y="729" width="1" height="3" fill="#000"/>
</g>
<text transform="translate(2.5 741) scale(1 1.060)" style="font-size:9.15px;">24 Jul 2020</text>
<text transform="translate(66.5 741) scale(1 1.060)" style="font-size:9.15px;">3 Aug 2020</text>
<text transform="translate(130.5 741) scale(1 1.060)" style="font-size:9.15px;">12 Aug 2020</text>
<text transform="translate(194.5 741) scale(1 1.060)" style="font-size:9.15px;">21 Aug 2020</text>
<text transform="translate(258.5 741) scale(1 1.060)" style="font-size:9.15px;">31 Aug 2020</text>
<text transform="translate(322.5 741) scale(1 1.060)" style="font-size:9.15px;">9 Sep 2020</text>
<text transform="translate(386.5 741) scale(1 1.060)" style="font-size:9.15px;">18 Sep 2020</text>
<text transform="translate(450.5 741) scale(1 1.060)" style="font-size:9.15px;">28 Sep 2020</text>
<text transform="translate(514.5 741) scale(1 1.060)" style="font-size:9.15px;">7 Oct 2020</text>
<text transform="translate(578.5 741) scale(1 1.060)" style="font-size:9.15px;">16 Oct 2020</text>
<text transform="translate(642.5 741) scale(1 1.060)" style="font-size:9.15px;">26 Oct 2020</text>
<text transform="translate(706.5 741) scale(1 1.060)" style="font-size:9.15px;">4 Nov 2020</text>
<text transform="translate(770.5 741) scale(1 1.060)" style="font-size:9.15px;">13 Nov 2020</text>
<text transform="translate(834.5 741) scale(1 1.060)" style="font-size:9.15px;">23 Nov 2020</text>
<text transform="translate(898.5 741) scale(1 1.060)" style="font-size:9.15px;">2 Dec 2020</text>
<text transform="translate(962.5 741) scale(1 1.060)" style="font-size:9.15px;">11 Dec 2020</text>
<text transform="translate(1026.5 741) scale(1 1.060)" style="font-size:9.15px;">21 Dec 2020</text>
<text transform="translate(1090.5 741) scale(1 1.060)" style="font-size:9.15px;">31 Dec 2020</text>
<text transform="translate(1154.5 741) scale(1 1.060)" style="font-size:9.15px;">11 Jan 2021</text>
<text transform="translate(1218.5 741) scale(1 1.060)" style="font-size:9.15px;">20 Jan 2021</text>
<g class="c">
<rect x="0" y="749" width="1636" height="28" fill="#f0f0f0"/>
<rect x="0" y="751" width="1636" height="1" fill="#000"/>
<rect x="0" y="771" width="1636" height="4" fill="#f6f6f6"/>
<rect x="0" y="775" width="1636" height="1" fill="#c4c4c4"/>
<rect x="0" y="776" width="1636" height="1" fill="#f2f2f2"/>
<rect x="5" y="751" width="102" height="18" fill="#ffffff"/>
<rect x="4" y="751" width="1" height="19" fill="#000"/>
<rect x="107" y="751" width="1" height="19" fill="#000"/>
<rect x="4" y="769" width="104" height="1" fill="#000"/>
<rect x="108" y="753" width="1" height="18" fill="#d0d0d0"/>
<rect x="6" y="770" width="103" height="1" fill="#d0d0d0"/>
<rect x="208" y="754" width="1" height="14" fill="#555555"/>
<rect x="312" y="754" width="1" height="14" fill="#555555"/>
<rect x="416" y="754" width="1" height="14" fill="#555555"/>
<rect x="520" y="754" width="1" height="14" fill="#555555"/>
<rect x="624" y="754" width="1" height="14" fill="#555555"/>
<rect x="716" y="754" width="1" height="14" fill="#555555"/>
<rect x="808" y="754" width="1" height="14" fill="#555555"/>
<rect x="880" y="754" width="1" height="14" fill="#555555"/>
<rect x="960" y="754" width="1" height="14" fill="#555555"/>
<rect x="1040" y="754" width="1" height="14" fill="#555555"/>
<rect x="1120" y="754" width="1" height="14" fill="#555555"/>
<rect x="1196" y="754" width="1" height="14" fill="#555555"/>
<rect x="1296" y="754" width="1" height="14" fill="#555555"/>
<rect x="1380" y="754" width="1" height="14" fill="#555555"/>
<rect x="1460" y="754" width="1" height="14" fill="#555555"/>
<rect x="1560" y="754" width="1" height="14" fill="#555555"/>
</g>
<text class="ta" transform="translate(16.3 765.5) scale(1 1.013)" style="font-size:11.85px;">EURUSD,Daily</text>
<text class="t" x="117.7" y="765.5" textLength="79.6" lengthAdjust="spacing">USDCHF,Daily</text>
<text class="t" x="219.2" y="765.5" textLength="81.6" lengthAdjust="spacing">AUDUSD,Daily</text>
<text class="t" x="322.7" y="765.5" textLength="81.1" lengthAdjust="spacing">USDCAD,Daily</text>
<text class="t" x="426.4" y="765.5" textLength="83.1" lengthAdjust="spacing">USDCNH,Daily</text>
<text class="t" x="532.2" y="765.5" textLength="79.8" lengthAdjust="spacing">EURUSD,Daily</text>
<text class="t" x="635.9" y="765.5" textLength="68.1" lengthAdjust="spacing">GBPUSD,H4</text>
<text class="t" x="726.4" y="765.5" textLength="68.9" lengthAdjust="spacing">XAUUSD,H4</text>
<text class="t" x="819.7" y="765.5" textLength="49.1" lengthAdjust="spacing">HK50,H1</text>
<text class="t" x="891.4" y="765.5" textLength="56.4" lengthAdjust="spacing">UK100,H1</text>
<text class="t" x="970.9" y="765.5" textLength="56.9" lengthAdjust="spacing">UK100,H1</text>
<text class="t" x="1050.9" y="765.5" textLength="56.4" lengthAdjust="spacing">GER30,H1</text>
<text class="t" x="1129.7" y="765.5" textLength="54.3" lengthAdjust="spacing">FRA40,H1</text>
<text class="t" x="1207.2" y="765.5" textLength="77.6" lengthAdjust="spacing">USOil,Weekly</text>
<text class="t" x="1306.2" y="765.5" textLength="62.6" lengthAdjust="spacing">USDJPY,H1</text>
<text class="t" x="1389.9" y="765.5" textLength="58.9" lengthAdjust="spacing">DJ30,Daily</text>
<text class="t" x="1469.9" y="765.5" textLength="78.1" lengthAdjust="spacing">CHINA300,H1</text>
<text class="t" transform="translate(1569.9 765.5) scale(1 1.013)" style="font-size:11.85px;">USOil,</text>
<path d="M1613.8 756.5v7l-4-3.5z" fill="#a0a0a0"/><path d="M1628.8 756.5v7l4-3.5z" fill="#000"/>
</svg>
</body></html>
